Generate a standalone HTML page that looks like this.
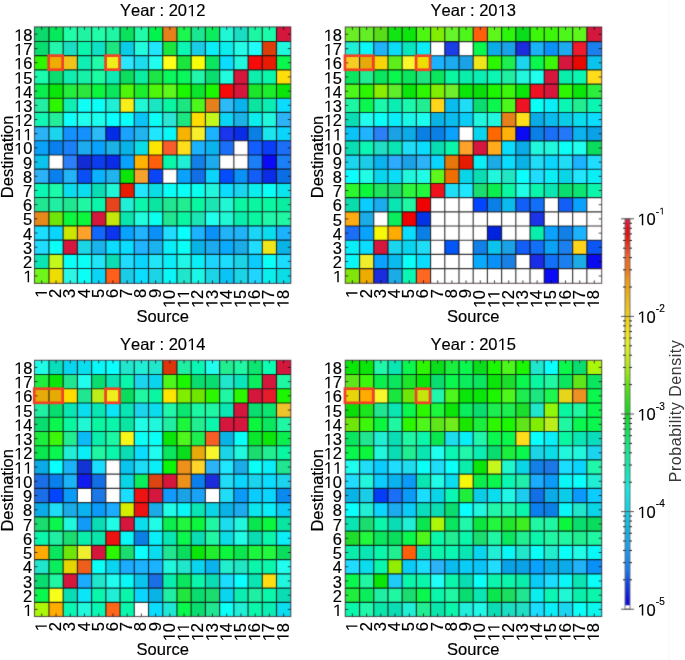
<!DOCTYPE html><html><head><meta charset="utf-8"><style>html,body{margin:0;padding:0;background:#fff;width:685px;height:660px;overflow:hidden}svg{display:block;-webkit-font-smoothing:antialiased;will-change:transform}</style></head><body><svg width="685" height="660" viewBox="0 0 685 660">
<defs><filter id="bl" x="0" y="0" width="685" height="660" filterUnits="userSpaceOnUse" color-interpolation-filters="sRGB"><feConvolveMatrix order="3" kernelMatrix="0.0115 0.0841 0.0115 0.0841 0.6177 0.0841 0.0115 0.0841 0.0115" edgeMode="duplicate" preserveAlpha="true"/></filter></defs>
<defs><linearGradient id="cb" x1="0" y1="0" x2="0" y2="1"><stop offset="0.0" stop-color="#d82048"/><stop offset="0.0159" stop-color="#e8142c"/><stop offset="0.0338" stop-color="#e80c10"/><stop offset="0.0543" stop-color="#e82010"/><stop offset="0.0799" stop-color="#e84828"/><stop offset="0.1004" stop-color="#f06828"/><stop offset="0.126" stop-color="#f07018"/><stop offset="0.1568" stop-color="#f09818"/><stop offset="0.1824" stop-color="#f0a810"/><stop offset="0.208" stop-color="#e8b820"/><stop offset="0.25" stop-color="#f0d010"/><stop offset="0.29" stop-color="#f0e018"/><stop offset="0.3233" stop-color="#e0f020"/><stop offset="0.3617" stop-color="#c0e818"/><stop offset="0.4001" stop-color="#90e810"/><stop offset="0.4257" stop-color="#60e010"/><stop offset="0.4641" stop-color="#30dc18"/><stop offset="0.5" stop-color="#10d820"/><stop offset="0.541" stop-color="#10e050"/><stop offset="0.5794" stop-color="#10e880"/><stop offset="0.6178" stop-color="#10e8a0"/><stop offset="0.6562" stop-color="#10e8c0"/><stop offset="0.6947" stop-color="#10e8e0"/><stop offset="0.75" stop-color="#10d0e8"/><stop offset="0.7971" stop-color="#10b0e0"/><stop offset="0.8227" stop-color="#18a8e8"/><stop offset="0.8612" stop-color="#1890f0"/><stop offset="0.8996" stop-color="#1878f0"/><stop offset="0.938" stop-color="#1040e0"/><stop offset="0.9764" stop-color="#1010e0"/><stop offset="0.9898" stop-color="#1010e0"/><stop offset="0.9908" stop-color="#ffffff"/><stop offset="1.0" stop-color="#ffffff"/></linearGradient></defs>
<g filter="url(#bl)">
<rect width="685" height="660" fill="#fff"/>
<rect x="34.50" y="26.90" width="14.48" height="14.58" fill="#0ed96d"/>
<rect x="48.95" y="26.90" width="14.25" height="14.58" fill="#05ea5a"/>
<rect x="63.17" y="26.90" width="14.25" height="14.58" fill="#20fea8"/>
<rect x="77.40" y="26.90" width="14.25" height="14.58" fill="#20f4a2"/>
<rect x="91.62" y="26.90" width="14.25" height="14.58" fill="#20fea8"/>
<rect x="105.84" y="26.90" width="14.25" height="14.58" fill="#20f7a2"/>
<rect x="120.06" y="26.90" width="14.25" height="14.58" fill="#0ae25e"/>
<rect x="134.28" y="26.90" width="14.25" height="14.58" fill="#20fca7"/>
<rect x="148.51" y="26.90" width="14.25" height="14.58" fill="#00f44e"/>
<rect x="162.73" y="26.90" width="14.25" height="14.58" fill="#e6801b"/>
<rect x="176.95" y="26.90" width="14.25" height="14.58" fill="#1bf74e"/>
<rect x="191.17" y="26.90" width="14.25" height="14.58" fill="#1be691"/>
<rect x="205.39" y="26.90" width="14.25" height="14.58" fill="#0aee5e"/>
<rect x="219.62" y="26.90" width="14.25" height="14.58" fill="#20f7d5"/>
<rect x="233.84" y="26.90" width="14.25" height="14.58" fill="#1bddc4"/>
<rect x="248.06" y="26.90" width="14.25" height="14.58" fill="#1bf7a2"/>
<rect x="262.28" y="26.90" width="14.25" height="14.58" fill="#1bfcab"/>
<rect x="276.50" y="26.90" width="14.33" height="14.58" fill="#d5173d"/>
<rect x="34.50" y="41.45" width="14.48" height="14.22" fill="#0add6f"/>
<rect x="48.95" y="41.45" width="14.25" height="14.22" fill="#23f7ab"/>
<rect x="63.17" y="41.45" width="14.25" height="14.22" fill="#1bddc4"/>
<rect x="77.40" y="41.45" width="14.25" height="14.22" fill="#0af7ab"/>
<rect x="91.62" y="41.45" width="14.25" height="14.22" fill="#0fe1c4"/>
<rect x="105.84" y="41.45" width="14.25" height="14.22" fill="#1be680"/>
<rect x="120.06" y="41.45" width="14.25" height="14.22" fill="#0acce6"/>
<rect x="134.28" y="41.45" width="14.25" height="14.22" fill="#20fcdd"/>
<rect x="148.51" y="41.45" width="14.25" height="14.22" fill="#20e6ff"/>
<rect x="162.73" y="41.45" width="14.25" height="14.22" fill="#1be63d"/>
<rect x="176.95" y="41.45" width="14.25" height="14.22" fill="#0af7b3"/>
<rect x="191.17" y="41.45" width="14.25" height="14.22" fill="#1bcce6"/>
<rect x="205.39" y="41.45" width="14.25" height="14.22" fill="#0aeef7"/>
<rect x="219.62" y="41.45" width="14.25" height="14.22" fill="#0aeeee"/>
<rect x="233.84" y="41.45" width="14.25" height="14.22" fill="#23fce6"/>
<rect x="248.06" y="41.45" width="14.25" height="14.22" fill="#20fcf7"/>
<rect x="262.28" y="41.45" width="14.25" height="14.22" fill="#dd3d0a"/>
<rect x="276.50" y="41.45" width="14.33" height="14.22" fill="#20f7dd"/>
<rect x="34.50" y="55.64" width="14.48" height="14.22" fill="#2cf700"/>
<rect x="48.95" y="55.64" width="14.25" height="14.22" fill="#eeab00"/>
<rect x="63.17" y="55.64" width="14.25" height="14.22" fill="#eec41b"/>
<rect x="77.40" y="55.64" width="14.25" height="14.22" fill="#0feeb3"/>
<rect x="91.62" y="55.64" width="14.25" height="14.22" fill="#20fca7"/>
<rect x="105.84" y="55.64" width="14.25" height="14.22" fill="#eeee1b"/>
<rect x="120.06" y="55.64" width="14.25" height="14.22" fill="#2ce6ff"/>
<rect x="134.28" y="55.64" width="14.25" height="14.22" fill="#1bddee"/>
<rect x="148.51" y="55.64" width="14.25" height="14.22" fill="#20ffee"/>
<rect x="162.73" y="55.64" width="14.25" height="14.22" fill="#ffff1b"/>
<rect x="176.95" y="55.64" width="14.25" height="14.22" fill="#1be63d"/>
<rect x="191.17" y="55.64" width="14.25" height="14.22" fill="#f7ff0a"/>
<rect x="205.39" y="55.64" width="14.25" height="14.22" fill="#0ae65e"/>
<rect x="219.62" y="55.64" width="14.25" height="14.22" fill="#0addff"/>
<rect x="233.84" y="55.64" width="14.25" height="14.22" fill="#20f7dd"/>
<rect x="248.06" y="55.64" width="14.25" height="14.22" fill="#f70a0a"/>
<rect x="262.28" y="55.64" width="14.25" height="14.22" fill="#e61b00"/>
<rect x="276.50" y="55.64" width="14.33" height="14.22" fill="#0af74e"/>
<rect x="34.50" y="69.83" width="14.48" height="14.22" fill="#1afcad"/>
<rect x="48.95" y="69.83" width="14.25" height="14.22" fill="#0cdd6f"/>
<rect x="63.17" y="69.83" width="14.25" height="14.22" fill="#0feeb0"/>
<rect x="77.40" y="69.83" width="14.25" height="14.22" fill="#15f1a7"/>
<rect x="91.62" y="69.83" width="14.25" height="14.22" fill="#1bfca2"/>
<rect x="105.84" y="69.83" width="14.25" height="14.22" fill="#0cebb3"/>
<rect x="120.06" y="69.83" width="14.25" height="14.22" fill="#0cdd5e"/>
<rect x="134.28" y="69.83" width="14.25" height="14.22" fill="#0aeea2"/>
<rect x="148.51" y="69.83" width="14.25" height="14.22" fill="#1be645"/>
<rect x="162.73" y="69.83" width="14.25" height="14.22" fill="#0af75e"/>
<rect x="176.95" y="69.83" width="14.25" height="14.22" fill="#0af75e"/>
<rect x="191.17" y="69.83" width="14.25" height="14.22" fill="#20f7ab"/>
<rect x="205.39" y="69.83" width="14.25" height="14.22" fill="#0add6f"/>
<rect x="219.62" y="69.83" width="14.25" height="14.22" fill="#20fcdd"/>
<rect x="233.84" y="69.83" width="14.25" height="14.22" fill="#d5173d"/>
<rect x="248.06" y="69.83" width="14.25" height="14.22" fill="#0feeab"/>
<rect x="262.28" y="69.83" width="14.25" height="14.22" fill="#0af7ab"/>
<rect x="276.50" y="69.83" width="14.33" height="14.22" fill="#ffdd0a"/>
<rect x="34.50" y="84.02" width="14.48" height="14.22" fill="#0aee4e"/>
<rect x="48.95" y="84.02" width="14.25" height="14.22" fill="#0ae60a"/>
<rect x="63.17" y="84.02" width="14.25" height="14.22" fill="#23ee3d"/>
<rect x="77.40" y="84.02" width="14.25" height="14.22" fill="#2ce63d"/>
<rect x="91.62" y="84.02" width="14.25" height="14.22" fill="#0af73d"/>
<rect x="105.84" y="84.02" width="14.25" height="14.22" fill="#0ae65e"/>
<rect x="120.06" y="84.02" width="14.25" height="14.22" fill="#4ef70a"/>
<rect x="134.28" y="84.02" width="14.25" height="14.22" fill="#1bee2c"/>
<rect x="148.51" y="84.02" width="14.25" height="14.22" fill="#4ef70a"/>
<rect x="162.73" y="84.02" width="14.25" height="14.22" fill="#5ef71b"/>
<rect x="176.95" y="84.02" width="14.25" height="14.22" fill="#1bf700"/>
<rect x="191.17" y="84.02" width="14.25" height="14.22" fill="#0ae62c"/>
<rect x="205.39" y="84.02" width="14.25" height="14.22" fill="#1bf700"/>
<rect x="219.62" y="84.02" width="14.25" height="14.22" fill="#f70a0a"/>
<rect x="233.84" y="84.02" width="14.25" height="14.22" fill="#d5173d"/>
<rect x="248.06" y="84.02" width="14.25" height="14.22" fill="#1be62c"/>
<rect x="262.28" y="84.02" width="14.25" height="14.22" fill="#1bee2c"/>
<rect x="276.50" y="84.02" width="14.33" height="14.22" fill="#0ae60a"/>
<rect x="34.50" y="98.21" width="14.48" height="14.22" fill="#23eea2"/>
<rect x="48.95" y="98.21" width="14.25" height="14.22" fill="#2cf700"/>
<rect x="63.17" y="98.21" width="14.25" height="14.22" fill="#0feeb3"/>
<rect x="77.40" y="98.21" width="14.25" height="14.22" fill="#0ffff7"/>
<rect x="91.62" y="98.21" width="14.25" height="14.22" fill="#0afff7"/>
<rect x="105.84" y="98.21" width="14.25" height="14.22" fill="#20eed5"/>
<rect x="120.06" y="98.21" width="14.25" height="14.22" fill="#f7ee1b"/>
<rect x="134.28" y="98.21" width="14.25" height="14.22" fill="#20f7d5"/>
<rect x="148.51" y="98.21" width="14.25" height="14.22" fill="#1be6c4"/>
<rect x="162.73" y="98.21" width="14.25" height="14.22" fill="#0af7a2"/>
<rect x="176.95" y="98.21" width="14.25" height="14.22" fill="#1be680"/>
<rect x="191.17" y="98.21" width="14.25" height="14.22" fill="#4ef71b"/>
<rect x="205.39" y="98.21" width="14.25" height="14.22" fill="#e6801b"/>
<rect x="219.62" y="98.21" width="14.25" height="14.22" fill="#2cbbf7"/>
<rect x="233.84" y="98.21" width="14.25" height="14.22" fill="#0ab3ee"/>
<rect x="248.06" y="98.21" width="14.25" height="14.22" fill="#0ae6a2"/>
<rect x="262.28" y="98.21" width="14.25" height="14.22" fill="#0aeeb3"/>
<rect x="276.50" y="98.21" width="14.33" height="14.22" fill="#0addff"/>
<rect x="34.50" y="112.40" width="14.48" height="14.22" fill="#12f7b3"/>
<rect x="48.95" y="112.40" width="14.25" height="14.22" fill="#23ee9a"/>
<rect x="63.17" y="112.40" width="14.25" height="14.22" fill="#0ffffc"/>
<rect x="77.40" y="112.40" width="14.25" height="14.22" fill="#20ffee"/>
<rect x="91.62" y="112.40" width="14.25" height="14.22" fill="#1bffee"/>
<rect x="105.84" y="112.40" width="14.25" height="14.22" fill="#0affff"/>
<rect x="120.06" y="112.40" width="14.25" height="14.22" fill="#0affff"/>
<rect x="134.28" y="112.40" width="14.25" height="14.22" fill="#0ac4f7"/>
<rect x="148.51" y="112.40" width="14.25" height="14.22" fill="#0afff7"/>
<rect x="162.73" y="112.40" width="14.25" height="14.22" fill="#2ce6d5"/>
<rect x="176.95" y="112.40" width="14.25" height="14.22" fill="#1be680"/>
<rect x="191.17" y="112.40" width="14.25" height="14.22" fill="#ffdd00"/>
<rect x="205.39" y="112.40" width="14.25" height="14.22" fill="#c4f71b"/>
<rect x="219.62" y="112.40" width="14.25" height="14.22" fill="#0ad5f7"/>
<rect x="233.84" y="112.40" width="14.25" height="14.22" fill="#1bb3e6"/>
<rect x="248.06" y="112.40" width="14.25" height="14.22" fill="#0aeeee"/>
<rect x="262.28" y="112.40" width="14.25" height="14.22" fill="#20f7dd"/>
<rect x="276.50" y="112.40" width="14.33" height="14.22" fill="#2cb3f7"/>
<rect x="34.50" y="126.59" width="14.48" height="14.22" fill="#2cb3f7"/>
<rect x="48.95" y="126.59" width="14.25" height="14.22" fill="#1bd5ee"/>
<rect x="63.17" y="126.59" width="14.25" height="14.22" fill="#1291ff"/>
<rect x="77.40" y="126.59" width="14.25" height="14.22" fill="#1291ff"/>
<rect x="91.62" y="126.59" width="14.25" height="14.22" fill="#2cbbf7"/>
<rect x="105.84" y="126.59" width="14.25" height="14.22" fill="#022ce6"/>
<rect x="120.06" y="126.59" width="14.25" height="14.22" fill="#1ba2ff"/>
<rect x="134.28" y="126.59" width="14.25" height="14.22" fill="#20b3ee"/>
<rect x="148.51" y="126.59" width="14.25" height="14.22" fill="#20e6ff"/>
<rect x="162.73" y="126.59" width="14.25" height="14.22" fill="#0af7f7"/>
<rect x="176.95" y="126.59" width="14.25" height="14.22" fill="#f7b300"/>
<rect x="191.17" y="126.59" width="14.25" height="14.22" fill="#f7ee2c"/>
<rect x="205.39" y="126.59" width="14.25" height="14.22" fill="#1bb3ff"/>
<rect x="219.62" y="126.59" width="14.25" height="14.22" fill="#1b34ee"/>
<rect x="233.84" y="126.59" width="14.25" height="14.22" fill="#0a2ce6"/>
<rect x="248.06" y="126.59" width="14.25" height="14.22" fill="#0a80e6"/>
<rect x="262.28" y="126.59" width="14.25" height="14.22" fill="#1be6ee"/>
<rect x="276.50" y="126.59" width="14.33" height="14.22" fill="#0ad5ff"/>
<rect x="34.50" y="140.78" width="14.48" height="14.22" fill="#0aa2f7"/>
<rect x="48.95" y="140.78" width="14.25" height="14.22" fill="#0a80ee"/>
<rect x="63.17" y="140.78" width="14.25" height="14.22" fill="#1b80f7"/>
<rect x="77.40" y="140.78" width="14.25" height="14.22" fill="#1babee"/>
<rect x="91.62" y="140.78" width="14.25" height="14.22" fill="#0aa2ff"/>
<rect x="105.84" y="140.78" width="14.25" height="14.22" fill="#1bb3e6"/>
<rect x="120.06" y="140.78" width="14.25" height="14.22" fill="#0ab3e6"/>
<rect x="134.28" y="140.78" width="14.25" height="14.22" fill="#0adde6"/>
<rect x="148.51" y="140.78" width="14.25" height="14.22" fill="#ffe600"/>
<rect x="162.73" y="140.78" width="14.25" height="14.22" fill="#f75e2c"/>
<rect x="176.95" y="140.78" width="14.25" height="14.22" fill="#ffdd1b"/>
<rect x="191.17" y="140.78" width="14.25" height="14.22" fill="#1bb3ff"/>
<rect x="205.39" y="140.78" width="14.25" height="14.22" fill="#0ab3ee"/>
<rect x="219.62" y="140.78" width="14.25" height="14.22" fill="#1b6ff7"/>
<rect x="233.84" y="140.78" width="14.25" height="14.22" fill="#ffffff"/>
<rect x="248.06" y="140.78" width="14.25" height="14.22" fill="#125eff"/>
<rect x="262.28" y="140.78" width="14.25" height="14.22" fill="#0a3df7"/>
<rect x="276.50" y="140.78" width="14.33" height="14.22" fill="#1b6ff7"/>
<rect x="34.50" y="154.97" width="14.48" height="14.22" fill="#0ac4ee"/>
<rect x="48.95" y="154.97" width="14.25" height="14.22" fill="#ffffff"/>
<rect x="63.17" y="154.97" width="14.25" height="14.22" fill="#2c80f7"/>
<rect x="77.40" y="154.97" width="14.25" height="14.22" fill="#122cd5"/>
<rect x="91.62" y="154.97" width="14.25" height="14.22" fill="#0a3dee"/>
<rect x="105.84" y="154.97" width="14.25" height="14.22" fill="#0a2ce6"/>
<rect x="120.06" y="154.97" width="14.25" height="14.22" fill="#0aa2ff"/>
<rect x="134.28" y="154.97" width="14.25" height="14.22" fill="#ffb300"/>
<rect x="148.51" y="154.97" width="14.25" height="14.22" fill="#ff5e0a"/>
<rect x="162.73" y="154.97" width="14.25" height="14.22" fill="#0af7ab"/>
<rect x="176.95" y="154.97" width="14.25" height="14.22" fill="#20eed5"/>
<rect x="191.17" y="154.97" width="14.25" height="14.22" fill="#1280e6"/>
<rect x="205.39" y="154.97" width="14.25" height="14.22" fill="#1babee"/>
<rect x="219.62" y="154.97" width="14.25" height="14.22" fill="#ffffff"/>
<rect x="233.84" y="154.97" width="14.25" height="14.22" fill="#ffffff"/>
<rect x="248.06" y="154.97" width="14.25" height="14.22" fill="#1b80f7"/>
<rect x="262.28" y="154.97" width="14.25" height="14.22" fill="#0a0af7"/>
<rect x="276.50" y="154.97" width="14.33" height="14.22" fill="#1b80f7"/>
<rect x="34.50" y="169.16" width="14.48" height="14.22" fill="#2cb3f7"/>
<rect x="48.95" y="169.16" width="14.25" height="14.22" fill="#0a80ee"/>
<rect x="63.17" y="169.16" width="14.25" height="14.22" fill="#23b3f7"/>
<rect x="77.40" y="169.16" width="14.25" height="14.22" fill="#0a4ef7"/>
<rect x="91.62" y="169.16" width="14.25" height="14.22" fill="#0ab3ff"/>
<rect x="105.84" y="169.16" width="14.25" height="14.22" fill="#20b3ee"/>
<rect x="120.06" y="169.16" width="14.25" height="14.22" fill="#0ae60a"/>
<rect x="134.28" y="169.16" width="14.25" height="14.22" fill="#f7a22c"/>
<rect x="148.51" y="169.16" width="14.25" height="14.22" fill="#0a45f7"/>
<rect x="162.73" y="169.16" width="14.25" height="14.22" fill="#ffffff"/>
<rect x="176.95" y="169.16" width="14.25" height="14.22" fill="#0aa2ff"/>
<rect x="191.17" y="169.16" width="14.25" height="14.22" fill="#126fe6"/>
<rect x="205.39" y="169.16" width="14.25" height="14.22" fill="#0ad5ff"/>
<rect x="219.62" y="169.16" width="14.25" height="14.22" fill="#024eff"/>
<rect x="233.84" y="169.16" width="14.25" height="14.22" fill="#0a91f7"/>
<rect x="248.06" y="169.16" width="14.25" height="14.22" fill="#125ef7"/>
<rect x="262.28" y="169.16" width="14.25" height="14.22" fill="#0a2ce6"/>
<rect x="276.50" y="169.16" width="14.33" height="14.22" fill="#0a6fe6"/>
<rect x="34.50" y="183.35" width="14.48" height="14.22" fill="#0af7b3"/>
<rect x="48.95" y="183.35" width="14.25" height="14.22" fill="#1bfcab"/>
<rect x="63.17" y="183.35" width="14.25" height="14.22" fill="#0addee"/>
<rect x="77.40" y="183.35" width="14.25" height="14.22" fill="#0addee"/>
<rect x="91.62" y="183.35" width="14.25" height="14.22" fill="#0addb3"/>
<rect x="105.84" y="183.35" width="14.25" height="14.22" fill="#20f7d5"/>
<rect x="120.06" y="183.35" width="14.25" height="14.22" fill="#e61b00"/>
<rect x="134.28" y="183.35" width="14.25" height="14.22" fill="#20e6ff"/>
<rect x="148.51" y="183.35" width="14.25" height="14.22" fill="#0adde6"/>
<rect x="162.73" y="183.35" width="14.25" height="14.22" fill="#0afff7"/>
<rect x="176.95" y="183.35" width="14.25" height="14.22" fill="#0afff7"/>
<rect x="191.17" y="183.35" width="14.25" height="14.22" fill="#0affee"/>
<rect x="205.39" y="183.35" width="14.25" height="14.22" fill="#20f7dd"/>
<rect x="219.62" y="183.35" width="14.25" height="14.22" fill="#0addff"/>
<rect x="233.84" y="183.35" width="14.25" height="14.22" fill="#1bd5ee"/>
<rect x="248.06" y="183.35" width="14.25" height="14.22" fill="#0aeeee"/>
<rect x="262.28" y="183.35" width="14.25" height="14.22" fill="#0afff7"/>
<rect x="276.50" y="183.35" width="14.33" height="14.22" fill="#0ae6ee"/>
<rect x="34.50" y="197.54" width="14.48" height="14.22" fill="#20e691"/>
<rect x="48.95" y="197.54" width="14.25" height="14.22" fill="#20eea2"/>
<rect x="63.17" y="197.54" width="14.25" height="14.22" fill="#20e691"/>
<rect x="77.40" y="197.54" width="14.25" height="14.22" fill="#20f7a2"/>
<rect x="91.62" y="197.54" width="14.25" height="14.22" fill="#0af7ab"/>
<rect x="105.84" y="197.54" width="14.25" height="14.22" fill="#e6451b"/>
<rect x="120.06" y="197.54" width="14.25" height="14.22" fill="#20eed5"/>
<rect x="134.28" y="197.54" width="14.25" height="14.22" fill="#0af7ab"/>
<rect x="148.51" y="197.54" width="14.25" height="14.22" fill="#0ae6a2"/>
<rect x="162.73" y="197.54" width="14.25" height="14.22" fill="#20e691"/>
<rect x="176.95" y="197.54" width="14.25" height="14.22" fill="#20ee91"/>
<rect x="191.17" y="197.54" width="14.25" height="14.22" fill="#0af7a2"/>
<rect x="205.39" y="197.54" width="14.25" height="14.22" fill="#1be6b3"/>
<rect x="219.62" y="197.54" width="14.25" height="14.22" fill="#20f7d5"/>
<rect x="233.84" y="197.54" width="14.25" height="14.22" fill="#0af7a2"/>
<rect x="248.06" y="197.54" width="14.25" height="14.22" fill="#0af7a2"/>
<rect x="262.28" y="197.54" width="14.25" height="14.22" fill="#0af7a2"/>
<rect x="276.50" y="197.54" width="14.33" height="14.22" fill="#0aeea2"/>
<rect x="34.50" y="211.73" width="14.48" height="14.22" fill="#e6891b"/>
<rect x="48.95" y="211.73" width="14.25" height="14.22" fill="#6fe60a"/>
<rect x="63.17" y="211.73" width="14.25" height="14.22" fill="#0af73d"/>
<rect x="77.40" y="211.73" width="14.25" height="14.22" fill="#0af73d"/>
<rect x="91.62" y="211.73" width="14.25" height="14.22" fill="#d5173d"/>
<rect x="105.84" y="211.73" width="14.25" height="14.22" fill="#c4e60a"/>
<rect x="120.06" y="211.73" width="14.25" height="14.22" fill="#0ae6ab"/>
<rect x="134.28" y="211.73" width="14.25" height="14.22" fill="#20fcdd"/>
<rect x="148.51" y="211.73" width="14.25" height="14.22" fill="#0affee"/>
<rect x="162.73" y="211.73" width="14.25" height="14.22" fill="#20e691"/>
<rect x="176.95" y="211.73" width="14.25" height="14.22" fill="#0af7a2"/>
<rect x="191.17" y="211.73" width="14.25" height="14.22" fill="#1be6b3"/>
<rect x="205.39" y="211.73" width="14.25" height="14.22" fill="#20ffee"/>
<rect x="219.62" y="211.73" width="14.25" height="14.22" fill="#20f7d5"/>
<rect x="233.84" y="211.73" width="14.25" height="14.22" fill="#0aeeab"/>
<rect x="248.06" y="211.73" width="14.25" height="14.22" fill="#0af7a2"/>
<rect x="262.28" y="211.73" width="14.25" height="14.22" fill="#20f7ab"/>
<rect x="276.50" y="211.73" width="14.33" height="14.22" fill="#20f7a2"/>
<rect x="34.50" y="225.92" width="14.48" height="14.22" fill="#1bddff"/>
<rect x="48.95" y="225.92" width="14.25" height="14.22" fill="#0ad5ff"/>
<rect x="63.17" y="225.92" width="14.25" height="14.22" fill="#cce600"/>
<rect x="77.40" y="225.92" width="14.25" height="14.22" fill="#ffa22c"/>
<rect x="91.62" y="225.92" width="14.25" height="14.22" fill="#1267ff"/>
<rect x="105.84" y="225.92" width="14.25" height="14.22" fill="#0a34ee"/>
<rect x="120.06" y="225.92" width="14.25" height="14.22" fill="#0aa2ff"/>
<rect x="134.28" y="225.92" width="14.25" height="14.22" fill="#20b3ff"/>
<rect x="148.51" y="225.92" width="14.25" height="14.22" fill="#0a91f7"/>
<rect x="162.73" y="225.92" width="14.25" height="14.22" fill="#20ddff"/>
<rect x="176.95" y="225.92" width="14.25" height="14.22" fill="#0affff"/>
<rect x="191.17" y="225.92" width="14.25" height="14.22" fill="#1bb3ff"/>
<rect x="205.39" y="225.92" width="14.25" height="14.22" fill="#0a91f7"/>
<rect x="219.62" y="225.92" width="14.25" height="14.22" fill="#20b3f7"/>
<rect x="233.84" y="225.92" width="14.25" height="14.22" fill="#20b3f7"/>
<rect x="248.06" y="225.92" width="14.25" height="14.22" fill="#1bd5f7"/>
<rect x="262.28" y="225.92" width="14.25" height="14.22" fill="#0addee"/>
<rect x="276.50" y="225.92" width="14.33" height="14.22" fill="#1bb3ff"/>
<rect x="34.50" y="240.11" width="14.48" height="14.22" fill="#20ddff"/>
<rect x="48.95" y="240.11" width="14.25" height="14.22" fill="#0afff7"/>
<rect x="63.17" y="240.11" width="14.25" height="14.22" fill="#d5173d"/>
<rect x="77.40" y="240.11" width="14.25" height="14.22" fill="#1bd5e6"/>
<rect x="91.62" y="240.11" width="14.25" height="14.22" fill="#1bb3ee"/>
<rect x="105.84" y="240.11" width="14.25" height="14.22" fill="#0addff"/>
<rect x="120.06" y="240.11" width="14.25" height="14.22" fill="#0addff"/>
<rect x="134.28" y="240.11" width="14.25" height="14.22" fill="#20b3ff"/>
<rect x="148.51" y="240.11" width="14.25" height="14.22" fill="#1bb3ee"/>
<rect x="162.73" y="240.11" width="14.25" height="14.22" fill="#0aeef7"/>
<rect x="176.95" y="240.11" width="14.25" height="14.22" fill="#0afff7"/>
<rect x="191.17" y="240.11" width="14.25" height="14.22" fill="#0ab3e6"/>
<rect x="205.39" y="240.11" width="14.25" height="14.22" fill="#1babee"/>
<rect x="219.62" y="240.11" width="14.25" height="14.22" fill="#0aabff"/>
<rect x="233.84" y="240.11" width="14.25" height="14.22" fill="#1babe6"/>
<rect x="248.06" y="240.11" width="14.25" height="14.22" fill="#20ddff"/>
<rect x="262.28" y="240.11" width="14.25" height="14.22" fill="#eee61b"/>
<rect x="276.50" y="240.11" width="14.33" height="14.22" fill="#0ab3e6"/>
<rect x="34.50" y="254.30" width="14.48" height="14.22" fill="#0ae6b3"/>
<rect x="48.95" y="254.30" width="14.25" height="14.22" fill="#c4f71b"/>
<rect x="63.17" y="254.30" width="14.25" height="14.22" fill="#0afff7"/>
<rect x="77.40" y="254.30" width="14.25" height="14.22" fill="#0afff7"/>
<rect x="91.62" y="254.30" width="14.25" height="14.22" fill="#20e6f7"/>
<rect x="105.84" y="254.30" width="14.25" height="14.22" fill="#0addb3"/>
<rect x="120.06" y="254.30" width="14.25" height="14.22" fill="#20ddff"/>
<rect x="134.28" y="254.30" width="14.25" height="14.22" fill="#0ad5ff"/>
<rect x="148.51" y="254.30" width="14.25" height="14.22" fill="#20e6f7"/>
<rect x="162.73" y="254.30" width="14.25" height="14.22" fill="#0aeef7"/>
<rect x="176.95" y="254.30" width="14.25" height="14.22" fill="#20f7e6"/>
<rect x="191.17" y="254.30" width="14.25" height="14.22" fill="#0aeef7"/>
<rect x="205.39" y="254.30" width="14.25" height="14.22" fill="#1bd5ff"/>
<rect x="219.62" y="254.30" width="14.25" height="14.22" fill="#1bddff"/>
<rect x="233.84" y="254.30" width="14.25" height="14.22" fill="#1bd5e6"/>
<rect x="248.06" y="254.30" width="14.25" height="14.22" fill="#0accff"/>
<rect x="262.28" y="254.30" width="14.25" height="14.22" fill="#0afff7"/>
<rect x="276.50" y="254.30" width="14.33" height="14.22" fill="#1bddff"/>
<rect x="34.50" y="268.49" width="14.48" height="14.94" fill="#6ff71b"/>
<rect x="48.95" y="268.49" width="14.25" height="14.94" fill="#eedd00"/>
<rect x="63.17" y="268.49" width="14.25" height="14.94" fill="#2cf7e6"/>
<rect x="77.40" y="268.49" width="14.25" height="14.94" fill="#0afff7"/>
<rect x="91.62" y="268.49" width="14.25" height="14.94" fill="#0ad5f7"/>
<rect x="105.84" y="268.49" width="14.25" height="14.94" fill="#ff5e1b"/>
<rect x="120.06" y="268.49" width="14.25" height="14.94" fill="#1bcce6"/>
<rect x="134.28" y="268.49" width="14.25" height="14.94" fill="#0addff"/>
<rect x="148.51" y="268.49" width="14.25" height="14.94" fill="#1bd5e6"/>
<rect x="162.73" y="268.49" width="14.25" height="14.94" fill="#0af7f7"/>
<rect x="176.95" y="268.49" width="14.25" height="14.94" fill="#20e6cc"/>
<rect x="191.17" y="268.49" width="14.25" height="14.94" fill="#1bf7e6"/>
<rect x="205.39" y="268.49" width="14.25" height="14.94" fill="#1bd5e6"/>
<rect x="219.62" y="268.49" width="14.25" height="14.94" fill="#0ac4f7"/>
<rect x="233.84" y="268.49" width="14.25" height="14.94" fill="#1bd5e6"/>
<rect x="248.06" y="268.49" width="14.25" height="14.94" fill="#20d5ff"/>
<rect x="262.28" y="268.49" width="14.25" height="14.94" fill="#0aeeee"/>
<rect x="276.50" y="268.49" width="14.33" height="14.94" fill="#0adde6"/>
<path d="M48.95 26.90V283.40M34.50 41.45H290.80M63.17 26.90V283.40M34.50 55.64H290.80M77.40 26.90V283.40M34.50 69.83H290.80M91.62 26.90V283.40M34.50 84.02H290.80M105.84 26.90V283.40M34.50 98.21H290.80M120.06 26.90V283.40M34.50 112.40H290.80M134.28 26.90V283.40M34.50 126.59H290.80M148.51 26.90V283.40M34.50 140.78H290.80M162.73 26.90V283.40M34.50 154.97H290.80M176.95 26.90V283.40M34.50 169.16H290.80M191.17 26.90V283.40M34.50 183.35H290.80M205.39 26.90V283.40M34.50 197.54H290.80M219.62 26.90V283.40M34.50 211.73H290.80M233.84 26.90V283.40M34.50 225.92H290.80M248.06 26.90V283.40M34.50 240.11H290.80M262.28 26.90V283.40M34.50 254.30H290.80M276.50 26.90V283.40M34.50 268.49H290.80" stroke="#000" stroke-opacity="0.78" stroke-width="1.15" fill="none"/>
<path d="M41.73 26.90v3M41.73 283.40v-3M34.50 34.17h3M290.80 34.17h-3M56.06 26.90v3M56.06 283.40v-3M34.50 48.55h3M290.80 48.55h-3M70.28 26.90v3M70.28 283.40v-3M34.50 62.73h3M290.80 62.73h-3M84.51 26.90v3M84.51 283.40v-3M34.50 76.92h3M290.80 76.92h-3M98.73 26.90v3M98.73 283.40v-3M34.50 91.12h3M290.80 91.12h-3M112.95 26.90v3M112.95 283.40v-3M34.50 105.31h3M290.80 105.31h-3M127.17 26.90v3M127.17 283.40v-3M34.50 119.50h3M290.80 119.50h-3M141.39 26.90v3M141.39 283.40v-3M34.50 133.69h3M290.80 133.69h-3M155.62 26.90v3M155.62 283.40v-3M34.50 147.88h3M290.80 147.88h-3M169.84 26.90v3M169.84 283.40v-3M34.50 162.06h3M290.80 162.06h-3M184.06 26.90v3M184.06 283.40v-3M34.50 176.25h3M290.80 176.25h-3M198.28 26.90v3M198.28 283.40v-3M34.50 190.44h3M290.80 190.44h-3M212.50 26.90v3M212.50 283.40v-3M34.50 204.63h3M290.80 204.63h-3M226.73 26.90v3M226.73 283.40v-3M34.50 218.82h3M290.80 218.82h-3M240.95 26.90v3M240.95 283.40v-3M34.50 233.01h3M290.80 233.01h-3M255.17 26.90v3M255.17 283.40v-3M34.50 247.20h3M290.80 247.20h-3M269.39 26.90v3M269.39 283.40v-3M34.50 261.39h3M290.80 261.39h-3M283.65 26.90v3M283.65 283.40v-3M34.50 275.94h3M290.80 275.94h-3" stroke="#000" stroke-opacity="0.7" stroke-width="1" fill="none"/>
<rect x="34.50" y="26.90" width="256.30" height="256.50" fill="none" stroke="#301828" stroke-opacity="0.72" stroke-width="1.1"/>
<rect x="48.65" y="55.59" width="14.00" height="14.09" fill="none" stroke="#f04028" stroke-width="2.65"/>
<rect x="105.54" y="55.59" width="14.00" height="14.09" fill="none" stroke="#f04028" stroke-width="2.65"/>
<rect x="345.25" y="27.00" width="14.33" height="14.58" fill="#69ee25"/>
<rect x="359.55" y="27.00" width="14.24" height="14.58" fill="#63ee25"/>
<rect x="373.75" y="27.00" width="14.24" height="14.58" fill="#5add19"/>
<rect x="387.96" y="27.00" width="14.24" height="14.58" fill="#12e612"/>
<rect x="402.16" y="27.00" width="14.24" height="14.58" fill="#0ce60c"/>
<rect x="416.37" y="27.00" width="14.24" height="14.58" fill="#4ef712"/>
<rect x="430.58" y="27.00" width="14.24" height="14.58" fill="#80ee00"/>
<rect x="444.78" y="27.00" width="14.24" height="14.58" fill="#67f42c"/>
<rect x="458.99" y="27.00" width="14.24" height="14.58" fill="#4ef71b"/>
<rect x="473.19" y="27.00" width="14.24" height="14.58" fill="#ff5e0a"/>
<rect x="487.40" y="27.00" width="14.24" height="14.58" fill="#5ef71b"/>
<rect x="501.61" y="27.00" width="14.24" height="14.58" fill="#2cf70a"/>
<rect x="515.81" y="27.00" width="14.24" height="14.58" fill="#0add1b"/>
<rect x="530.02" y="27.00" width="14.24" height="14.58" fill="#3df70a"/>
<rect x="544.22" y="27.00" width="14.24" height="14.58" fill="#3df70a"/>
<rect x="558.43" y="27.00" width="14.24" height="14.58" fill="#4ef71b"/>
<rect x="572.64" y="27.00" width="14.24" height="14.58" fill="#5ef71b"/>
<rect x="586.84" y="27.00" width="14.89" height="14.58" fill="#d5173d"/>
<rect x="345.25" y="41.55" width="14.33" height="14.22" fill="#20eed5"/>
<rect x="359.55" y="41.55" width="14.24" height="14.22" fill="#0af7f7"/>
<rect x="373.75" y="41.55" width="14.24" height="14.22" fill="#20b3f7"/>
<rect x="387.96" y="41.55" width="14.24" height="14.22" fill="#0addf7"/>
<rect x="402.16" y="41.55" width="14.24" height="14.22" fill="#0ae6bb"/>
<rect x="416.37" y="41.55" width="14.24" height="14.22" fill="#0aeef7"/>
<rect x="430.58" y="41.55" width="14.24" height="14.22" fill="#ffffff"/>
<rect x="444.78" y="41.55" width="14.24" height="14.22" fill="#1b3de6"/>
<rect x="458.99" y="41.55" width="14.24" height="14.22" fill="#ffffff"/>
<rect x="473.19" y="41.55" width="14.24" height="14.22" fill="#0af74e"/>
<rect x="487.40" y="41.55" width="14.24" height="14.22" fill="#0aabe6"/>
<rect x="501.61" y="41.55" width="14.24" height="14.22" fill="#1ba2e6"/>
<rect x="515.81" y="41.55" width="14.24" height="14.22" fill="#1b2cdd"/>
<rect x="530.02" y="41.55" width="14.24" height="14.22" fill="#1bb3f7"/>
<rect x="544.22" y="41.55" width="14.24" height="14.22" fill="#0a91f7"/>
<rect x="558.43" y="41.55" width="14.24" height="14.22" fill="#1babee"/>
<rect x="572.64" y="41.55" width="14.24" height="14.22" fill="#ee1b2c"/>
<rect x="586.84" y="41.55" width="14.89" height="14.22" fill="#1b80ee"/>
<rect x="345.25" y="55.74" width="14.33" height="14.22" fill="#f7cc23"/>
<rect x="359.55" y="55.74" width="14.24" height="14.22" fill="#e6ab0a"/>
<rect x="373.75" y="55.74" width="14.24" height="14.22" fill="#f7d50a"/>
<rect x="387.96" y="55.74" width="14.24" height="14.22" fill="#5eee1b"/>
<rect x="402.16" y="55.74" width="14.24" height="14.22" fill="#f7f72c"/>
<rect x="416.37" y="55.74" width="14.24" height="14.22" fill="#eedd00"/>
<rect x="430.58" y="55.74" width="14.24" height="14.22" fill="#1bb3ff"/>
<rect x="444.78" y="55.74" width="14.24" height="14.22" fill="#1babee"/>
<rect x="458.99" y="55.74" width="14.24" height="14.22" fill="#1ba2e6"/>
<rect x="473.19" y="55.74" width="14.24" height="14.22" fill="#eee61b"/>
<rect x="487.40" y="55.74" width="14.24" height="14.22" fill="#2cf700"/>
<rect x="501.61" y="55.74" width="14.24" height="14.22" fill="#1bee4e"/>
<rect x="515.81" y="55.74" width="14.24" height="14.22" fill="#1bd5ee"/>
<rect x="530.02" y="55.74" width="14.24" height="14.22" fill="#0af74e"/>
<rect x="544.22" y="55.74" width="14.24" height="14.22" fill="#3df70a"/>
<rect x="558.43" y="55.74" width="14.24" height="14.22" fill="#d5173d"/>
<rect x="572.64" y="55.74" width="14.24" height="14.22" fill="#e60a00"/>
<rect x="586.84" y="55.74" width="14.89" height="14.22" fill="#0ac4ee"/>
<rect x="345.25" y="69.93" width="14.33" height="14.22" fill="#0ae65e"/>
<rect x="359.55" y="69.93" width="14.24" height="14.22" fill="#20ee91"/>
<rect x="373.75" y="69.93" width="14.24" height="14.22" fill="#0ae65e"/>
<rect x="387.96" y="69.93" width="14.24" height="14.22" fill="#0af74e"/>
<rect x="402.16" y="69.93" width="14.24" height="14.22" fill="#0ae65e"/>
<rect x="416.37" y="69.93" width="14.24" height="14.22" fill="#1be680"/>
<rect x="430.58" y="69.93" width="14.24" height="14.22" fill="#0ae65e"/>
<rect x="444.78" y="69.93" width="14.24" height="14.22" fill="#0af7a2"/>
<rect x="458.99" y="69.93" width="14.24" height="14.22" fill="#0aeeab"/>
<rect x="473.19" y="69.93" width="14.24" height="14.22" fill="#0aeeb3"/>
<rect x="487.40" y="69.93" width="14.24" height="14.22" fill="#0af7b3"/>
<rect x="501.61" y="69.93" width="14.24" height="14.22" fill="#20eea2"/>
<rect x="515.81" y="69.93" width="14.24" height="14.22" fill="#20f7dd"/>
<rect x="530.02" y="69.93" width="14.24" height="14.22" fill="#20ffee"/>
<rect x="544.22" y="69.93" width="14.24" height="14.22" fill="#d5173d"/>
<rect x="558.43" y="69.93" width="14.24" height="14.22" fill="#0aeeab"/>
<rect x="572.64" y="69.93" width="14.24" height="14.22" fill="#0af7b3"/>
<rect x="586.84" y="69.93" width="14.89" height="14.22" fill="#ffdd1b"/>
<rect x="345.25" y="84.12" width="14.33" height="14.22" fill="#4ef71b"/>
<rect x="359.55" y="84.12" width="14.24" height="14.22" fill="#2cf700"/>
<rect x="373.75" y="84.12" width="14.24" height="14.22" fill="#89ee00"/>
<rect x="387.96" y="84.12" width="14.24" height="14.22" fill="#5eee2c"/>
<rect x="402.16" y="84.12" width="14.24" height="14.22" fill="#0ae60a"/>
<rect x="416.37" y="84.12" width="14.24" height="14.22" fill="#2cf700"/>
<rect x="430.58" y="84.12" width="14.24" height="14.22" fill="#80ee00"/>
<rect x="444.78" y="84.12" width="14.24" height="14.22" fill="#6fee2c"/>
<rect x="458.99" y="84.12" width="14.24" height="14.22" fill="#0ae60a"/>
<rect x="473.19" y="84.12" width="14.24" height="14.22" fill="#0add0a"/>
<rect x="487.40" y="84.12" width="14.24" height="14.22" fill="#1bf700"/>
<rect x="501.61" y="84.12" width="14.24" height="14.22" fill="#3df70a"/>
<rect x="515.81" y="84.12" width="14.24" height="14.22" fill="#0ae60a"/>
<rect x="530.02" y="84.12" width="14.24" height="14.22" fill="#ee1223"/>
<rect x="544.22" y="84.12" width="14.24" height="14.22" fill="#d5173d"/>
<rect x="558.43" y="84.12" width="14.24" height="14.22" fill="#2cf700"/>
<rect x="572.64" y="84.12" width="14.24" height="14.22" fill="#0ae60a"/>
<rect x="586.84" y="84.12" width="14.89" height="14.22" fill="#2cee3d"/>
<rect x="345.25" y="98.31" width="14.33" height="14.22" fill="#1bf7a2"/>
<rect x="359.55" y="98.31" width="14.24" height="14.22" fill="#0af74e"/>
<rect x="373.75" y="98.31" width="14.24" height="14.22" fill="#1bf7ab"/>
<rect x="387.96" y="98.31" width="14.24" height="14.22" fill="#0aeeb3"/>
<rect x="402.16" y="98.31" width="14.24" height="14.22" fill="#1bf7ab"/>
<rect x="416.37" y="98.31" width="14.24" height="14.22" fill="#20ee91"/>
<rect x="430.58" y="98.31" width="14.24" height="14.22" fill="#ffd51b"/>
<rect x="444.78" y="98.31" width="14.24" height="14.22" fill="#0abbee"/>
<rect x="458.99" y="98.31" width="14.24" height="14.22" fill="#20ddf7"/>
<rect x="473.19" y="98.31" width="14.24" height="14.22" fill="#0add6f"/>
<rect x="487.40" y="98.31" width="14.24" height="14.22" fill="#0af74e"/>
<rect x="501.61" y="98.31" width="14.24" height="14.22" fill="#4ef71b"/>
<rect x="515.81" y="98.31" width="14.24" height="14.22" fill="#ee1223"/>
<rect x="530.02" y="98.31" width="14.24" height="14.22" fill="#0afff7"/>
<rect x="544.22" y="98.31" width="14.24" height="14.22" fill="#0aeef7"/>
<rect x="558.43" y="98.31" width="14.24" height="14.22" fill="#0af7b3"/>
<rect x="572.64" y="98.31" width="14.24" height="14.22" fill="#20ee91"/>
<rect x="586.84" y="98.31" width="14.89" height="14.22" fill="#0af7b3"/>
<rect x="345.25" y="112.50" width="14.33" height="14.22" fill="#0addb3"/>
<rect x="359.55" y="112.50" width="14.24" height="14.22" fill="#20fcee"/>
<rect x="373.75" y="112.50" width="14.24" height="14.22" fill="#0afff7"/>
<rect x="387.96" y="112.50" width="14.24" height="14.22" fill="#0aeef7"/>
<rect x="402.16" y="112.50" width="14.24" height="14.22" fill="#1bf7e6"/>
<rect x="416.37" y="112.50" width="14.24" height="14.22" fill="#1bffee"/>
<rect x="430.58" y="112.50" width="14.24" height="14.22" fill="#0ab3e6"/>
<rect x="444.78" y="112.50" width="14.24" height="14.22" fill="#0abbee"/>
<rect x="458.99" y="112.50" width="14.24" height="14.22" fill="#0accf7"/>
<rect x="473.19" y="112.50" width="14.24" height="14.22" fill="#20f7dd"/>
<rect x="487.40" y="112.50" width="14.24" height="14.22" fill="#20f7dd"/>
<rect x="501.61" y="112.50" width="14.24" height="14.22" fill="#e6801b"/>
<rect x="515.81" y="112.50" width="14.24" height="14.22" fill="#ffdd1b"/>
<rect x="530.02" y="112.50" width="14.24" height="14.22" fill="#0aabe6"/>
<rect x="544.22" y="112.50" width="14.24" height="14.22" fill="#0abbee"/>
<rect x="558.43" y="112.50" width="14.24" height="14.22" fill="#0acce6"/>
<rect x="572.64" y="112.50" width="14.24" height="14.22" fill="#0addee"/>
<rect x="586.84" y="112.50" width="14.89" height="14.22" fill="#0addff"/>
<rect x="345.25" y="126.69" width="14.33" height="14.22" fill="#0ac4f7"/>
<rect x="359.55" y="126.69" width="14.24" height="14.22" fill="#20b3ff"/>
<rect x="373.75" y="126.69" width="14.24" height="14.22" fill="#2c80f7"/>
<rect x="387.96" y="126.69" width="14.24" height="14.22" fill="#1ba2e6"/>
<rect x="402.16" y="126.69" width="14.24" height="14.22" fill="#0aabe6"/>
<rect x="416.37" y="126.69" width="14.24" height="14.22" fill="#0a80e6"/>
<rect x="430.58" y="126.69" width="14.24" height="14.22" fill="#0a80e6"/>
<rect x="444.78" y="126.69" width="14.24" height="14.22" fill="#0aa2ff"/>
<rect x="458.99" y="126.69" width="14.24" height="14.22" fill="#ffffff"/>
<rect x="473.19" y="126.69" width="14.24" height="14.22" fill="#0ad5ee"/>
<rect x="487.40" y="126.69" width="14.24" height="14.22" fill="#ff6700"/>
<rect x="501.61" y="126.69" width="14.24" height="14.22" fill="#ffb30a"/>
<rect x="515.81" y="126.69" width="14.24" height="14.22" fill="#0a0af7"/>
<rect x="530.02" y="126.69" width="14.24" height="14.22" fill="#0a80e6"/>
<rect x="544.22" y="126.69" width="14.24" height="14.22" fill="#1b6ff7"/>
<rect x="558.43" y="126.69" width="14.24" height="14.22" fill="#2378f7"/>
<rect x="572.64" y="126.69" width="14.24" height="14.22" fill="#0ab3ee"/>
<rect x="586.84" y="126.69" width="14.89" height="14.22" fill="#0aa2e6"/>
<rect x="345.25" y="140.88" width="14.33" height="14.22" fill="#0addb3"/>
<rect x="359.55" y="140.88" width="14.24" height="14.22" fill="#0af7b3"/>
<rect x="373.75" y="140.88" width="14.24" height="14.22" fill="#20ddc4"/>
<rect x="387.96" y="140.88" width="14.24" height="14.22" fill="#0ae6b3"/>
<rect x="402.16" y="140.88" width="14.24" height="14.22" fill="#20ddf7"/>
<rect x="416.37" y="140.88" width="14.24" height="14.22" fill="#0addff"/>
<rect x="430.58" y="140.88" width="14.24" height="14.22" fill="#0addb3"/>
<rect x="444.78" y="140.88" width="14.24" height="14.22" fill="#0af7ab"/>
<rect x="458.99" y="140.88" width="14.24" height="14.22" fill="#ffa22c"/>
<rect x="473.19" y="140.88" width="14.24" height="14.22" fill="#d5173d"/>
<rect x="487.40" y="140.88" width="14.24" height="14.22" fill="#ffab1b"/>
<rect x="501.61" y="140.88" width="14.24" height="14.22" fill="#0addff"/>
<rect x="515.81" y="140.88" width="14.24" height="14.22" fill="#0aabe6"/>
<rect x="530.02" y="140.88" width="14.24" height="14.22" fill="#20f7dd"/>
<rect x="544.22" y="140.88" width="14.24" height="14.22" fill="#20f7dd"/>
<rect x="558.43" y="140.88" width="14.24" height="14.22" fill="#0afff7"/>
<rect x="572.64" y="140.88" width="14.24" height="14.22" fill="#20ffee"/>
<rect x="586.84" y="140.88" width="14.89" height="14.22" fill="#0add5e"/>
<rect x="345.25" y="155.07" width="14.33" height="14.22" fill="#1bd5ee"/>
<rect x="359.55" y="155.07" width="14.24" height="14.22" fill="#1bcce6"/>
<rect x="373.75" y="155.07" width="14.24" height="14.22" fill="#0ab3ee"/>
<rect x="387.96" y="155.07" width="14.24" height="14.22" fill="#2cabff"/>
<rect x="402.16" y="155.07" width="14.24" height="14.22" fill="#1ba2e6"/>
<rect x="416.37" y="155.07" width="14.24" height="14.22" fill="#2cb3f7"/>
<rect x="430.58" y="155.07" width="14.24" height="14.22" fill="#0ad5ff"/>
<rect x="444.78" y="155.07" width="14.24" height="14.22" fill="#e6780a"/>
<rect x="458.99" y="155.07" width="14.24" height="14.22" fill="#e61b00"/>
<rect x="473.19" y="155.07" width="14.24" height="14.22" fill="#0aeef7"/>
<rect x="487.40" y="155.07" width="14.24" height="14.22" fill="#1babe6"/>
<rect x="501.61" y="155.07" width="14.24" height="14.22" fill="#0addff"/>
<rect x="515.81" y="155.07" width="14.24" height="14.22" fill="#0ab3e6"/>
<rect x="530.02" y="155.07" width="14.24" height="14.22" fill="#20ddf7"/>
<rect x="544.22" y="155.07" width="14.24" height="14.22" fill="#0ad5ff"/>
<rect x="558.43" y="155.07" width="14.24" height="14.22" fill="#20ddf7"/>
<rect x="572.64" y="155.07" width="14.24" height="14.22" fill="#1bb3ff"/>
<rect x="586.84" y="155.07" width="14.89" height="14.22" fill="#20ddff"/>
<rect x="345.25" y="169.26" width="14.33" height="14.22" fill="#0affff"/>
<rect x="359.55" y="169.26" width="14.24" height="14.22" fill="#20fce6"/>
<rect x="373.75" y="169.26" width="14.24" height="14.22" fill="#0ad5ee"/>
<rect x="387.96" y="169.26" width="14.24" height="14.22" fill="#0addf7"/>
<rect x="402.16" y="169.26" width="14.24" height="14.22" fill="#20f7dd"/>
<rect x="416.37" y="169.26" width="14.24" height="14.22" fill="#20fce6"/>
<rect x="430.58" y="169.26" width="14.24" height="14.22" fill="#5ef71b"/>
<rect x="444.78" y="169.26" width="14.24" height="14.22" fill="#ee6f00"/>
<rect x="458.99" y="169.26" width="14.24" height="14.22" fill="#0ad5e6"/>
<rect x="473.19" y="169.26" width="14.24" height="14.22" fill="#0addb3"/>
<rect x="487.40" y="169.26" width="14.24" height="14.22" fill="#20f7dd"/>
<rect x="501.61" y="169.26" width="14.24" height="14.22" fill="#20e6c4"/>
<rect x="515.81" y="169.26" width="14.24" height="14.22" fill="#0affff"/>
<rect x="530.02" y="169.26" width="14.24" height="14.22" fill="#20ddff"/>
<rect x="544.22" y="169.26" width="14.24" height="14.22" fill="#0aeef7"/>
<rect x="558.43" y="169.26" width="14.24" height="14.22" fill="#0ad5e6"/>
<rect x="572.64" y="169.26" width="14.24" height="14.22" fill="#20e6ff"/>
<rect x="586.84" y="169.26" width="14.89" height="14.22" fill="#0aeef7"/>
<rect x="345.25" y="183.45" width="14.33" height="14.22" fill="#2cf72c"/>
<rect x="359.55" y="183.45" width="14.24" height="14.22" fill="#0af73d"/>
<rect x="373.75" y="183.45" width="14.24" height="14.22" fill="#1be65e"/>
<rect x="387.96" y="183.45" width="14.24" height="14.22" fill="#1bdd6f"/>
<rect x="402.16" y="183.45" width="14.24" height="14.22" fill="#2cf73d"/>
<rect x="416.37" y="183.45" width="14.24" height="14.22" fill="#20f73d"/>
<rect x="430.58" y="183.45" width="14.24" height="14.22" fill="#ee121b"/>
<rect x="444.78" y="183.45" width="14.24" height="14.22" fill="#20ddf7"/>
<rect x="458.99" y="183.45" width="14.24" height="14.22" fill="#20e6ff"/>
<rect x="473.19" y="183.45" width="14.24" height="14.22" fill="#1bdd6f"/>
<rect x="487.40" y="183.45" width="14.24" height="14.22" fill="#0aee4e"/>
<rect x="501.61" y="183.45" width="14.24" height="14.22" fill="#0af7a2"/>
<rect x="515.81" y="183.45" width="14.24" height="14.22" fill="#20fce6"/>
<rect x="530.02" y="183.45" width="14.24" height="14.22" fill="#0af7ab"/>
<rect x="544.22" y="183.45" width="14.24" height="14.22" fill="#0ae6b3"/>
<rect x="558.43" y="183.45" width="14.24" height="14.22" fill="#0add6f"/>
<rect x="572.64" y="183.45" width="14.24" height="14.22" fill="#0ae66f"/>
<rect x="586.84" y="183.45" width="14.89" height="14.22" fill="#0af7ab"/>
<rect x="345.25" y="197.64" width="14.33" height="14.22" fill="#0addab"/>
<rect x="359.55" y="197.64" width="14.24" height="14.22" fill="#0accff"/>
<rect x="373.75" y="197.64" width="14.24" height="14.22" fill="#1babee"/>
<rect x="387.96" y="197.64" width="14.24" height="14.22" fill="#0ae6b3"/>
<rect x="402.16" y="197.64" width="14.24" height="14.22" fill="#20f7a2"/>
<rect x="416.37" y="197.64" width="14.24" height="14.22" fill="#ee0202"/>
<rect x="430.58" y="197.64" width="14.24" height="14.22" fill="#ffffff"/>
<rect x="444.78" y="197.64" width="14.24" height="14.22" fill="#ffffff"/>
<rect x="458.99" y="197.64" width="14.24" height="14.22" fill="#ffffff"/>
<rect x="473.19" y="197.64" width="14.24" height="14.22" fill="#0245ff"/>
<rect x="487.40" y="197.64" width="14.24" height="14.22" fill="#0a80e6"/>
<rect x="501.61" y="197.64" width="14.24" height="14.22" fill="#0abbee"/>
<rect x="515.81" y="197.64" width="14.24" height="14.22" fill="#125ef7"/>
<rect x="530.02" y="197.64" width="14.24" height="14.22" fill="#126ff7"/>
<rect x="544.22" y="197.64" width="14.24" height="14.22" fill="#ffffff"/>
<rect x="558.43" y="197.64" width="14.24" height="14.22" fill="#125ef7"/>
<rect x="572.64" y="197.64" width="14.24" height="14.22" fill="#0aa2ff"/>
<rect x="586.84" y="197.64" width="14.89" height="14.22" fill="#ffffff"/>
<rect x="345.25" y="211.83" width="14.33" height="14.22" fill="#ffab12"/>
<rect x="359.55" y="211.83" width="14.24" height="14.22" fill="#1babe6"/>
<rect x="373.75" y="211.83" width="14.24" height="14.22" fill="#ffffff"/>
<rect x="387.96" y="211.83" width="14.24" height="14.22" fill="#0aee5e"/>
<rect x="402.16" y="211.83" width="14.24" height="14.22" fill="#ee0202"/>
<rect x="416.37" y="211.83" width="14.24" height="14.22" fill="#0234e6"/>
<rect x="430.58" y="211.83" width="14.24" height="14.22" fill="#ffffff"/>
<rect x="444.78" y="211.83" width="14.24" height="14.22" fill="#ffffff"/>
<rect x="458.99" y="211.83" width="14.24" height="14.22" fill="#ffffff"/>
<rect x="473.19" y="211.83" width="14.24" height="14.22" fill="#ffffff"/>
<rect x="487.40" y="211.83" width="14.24" height="14.22" fill="#ffffff"/>
<rect x="501.61" y="211.83" width="14.24" height="14.22" fill="#ffffff"/>
<rect x="515.81" y="211.83" width="14.24" height="14.22" fill="#ffffff"/>
<rect x="530.02" y="211.83" width="14.24" height="14.22" fill="#1b34e6"/>
<rect x="544.22" y="211.83" width="14.24" height="14.22" fill="#ffffff"/>
<rect x="558.43" y="211.83" width="14.24" height="14.22" fill="#ffffff"/>
<rect x="572.64" y="211.83" width="14.24" height="14.22" fill="#ffffff"/>
<rect x="586.84" y="211.83" width="14.89" height="14.22" fill="#ffffff"/>
<rect x="345.25" y="226.02" width="14.33" height="14.22" fill="#1b6ff7"/>
<rect x="359.55" y="226.02" width="14.24" height="14.22" fill="#0aa2ff"/>
<rect x="373.75" y="226.02" width="14.24" height="14.22" fill="#f7f70a"/>
<rect x="387.96" y="226.02" width="14.24" height="14.22" fill="#ffab02"/>
<rect x="402.16" y="226.02" width="14.24" height="14.22" fill="#0addff"/>
<rect x="416.37" y="226.02" width="14.24" height="14.22" fill="#0a80e6"/>
<rect x="430.58" y="226.02" width="14.24" height="14.22" fill="#ffffff"/>
<rect x="444.78" y="226.02" width="14.24" height="14.22" fill="#ffffff"/>
<rect x="458.99" y="226.02" width="14.24" height="14.22" fill="#ffffff"/>
<rect x="473.19" y="226.02" width="14.24" height="14.22" fill="#ffffff"/>
<rect x="487.40" y="226.02" width="14.24" height="14.22" fill="#0223dd"/>
<rect x="501.61" y="226.02" width="14.24" height="14.22" fill="#ffffff"/>
<rect x="515.81" y="226.02" width="14.24" height="14.22" fill="#ffffff"/>
<rect x="530.02" y="226.02" width="14.24" height="14.22" fill="#0aeeab"/>
<rect x="544.22" y="226.02" width="14.24" height="14.22" fill="#0aa2ff"/>
<rect x="558.43" y="226.02" width="14.24" height="14.22" fill="#1280e6"/>
<rect x="572.64" y="226.02" width="14.24" height="14.22" fill="#1bb3ff"/>
<rect x="586.84" y="226.02" width="14.89" height="14.22" fill="#ffffff"/>
<rect x="345.25" y="240.21" width="14.33" height="14.22" fill="#0aeef7"/>
<rect x="359.55" y="240.21" width="14.24" height="14.22" fill="#0addff"/>
<rect x="373.75" y="240.21" width="14.24" height="14.22" fill="#d5173d"/>
<rect x="387.96" y="240.21" width="14.24" height="14.22" fill="#1bd5ee"/>
<rect x="402.16" y="240.21" width="14.24" height="14.22" fill="#0ad5ee"/>
<rect x="416.37" y="240.21" width="14.24" height="14.22" fill="#20ddf7"/>
<rect x="430.58" y="240.21" width="14.24" height="14.22" fill="#ffffff"/>
<rect x="444.78" y="240.21" width="14.24" height="14.22" fill="#0256f7"/>
<rect x="458.99" y="240.21" width="14.24" height="14.22" fill="#ffffff"/>
<rect x="473.19" y="240.21" width="14.24" height="14.22" fill="#1280e6"/>
<rect x="487.40" y="240.21" width="14.24" height="14.22" fill="#0ac4ee"/>
<rect x="501.61" y="240.21" width="14.24" height="14.22" fill="#1ba2e6"/>
<rect x="515.81" y="240.21" width="14.24" height="14.22" fill="#125ef7"/>
<rect x="530.02" y="240.21" width="14.24" height="14.22" fill="#126ff7"/>
<rect x="544.22" y="240.21" width="14.24" height="14.22" fill="#0aa2f7"/>
<rect x="558.43" y="240.21" width="14.24" height="14.22" fill="#1b80ee"/>
<rect x="572.64" y="240.21" width="14.24" height="14.22" fill="#ffd51b"/>
<rect x="586.84" y="240.21" width="14.89" height="14.22" fill="#0a56f7"/>
<rect x="345.25" y="254.40" width="14.33" height="14.22" fill="#0af7f7"/>
<rect x="359.55" y="254.40" width="14.24" height="14.22" fill="#eeee2c"/>
<rect x="373.75" y="254.40" width="14.24" height="14.22" fill="#0aa2ff"/>
<rect x="387.96" y="254.40" width="14.24" height="14.22" fill="#0abbee"/>
<rect x="402.16" y="254.40" width="14.24" height="14.22" fill="#0afff7"/>
<rect x="416.37" y="254.40" width="14.24" height="14.22" fill="#0addff"/>
<rect x="430.58" y="254.40" width="14.24" height="14.22" fill="#ffffff"/>
<rect x="444.78" y="254.40" width="14.24" height="14.22" fill="#ffffff"/>
<rect x="458.99" y="254.40" width="14.24" height="14.22" fill="#ffffff"/>
<rect x="473.19" y="254.40" width="14.24" height="14.22" fill="#0aabff"/>
<rect x="487.40" y="254.40" width="14.24" height="14.22" fill="#0a91f7"/>
<rect x="501.61" y="254.40" width="14.24" height="14.22" fill="#1b80e6"/>
<rect x="515.81" y="254.40" width="14.24" height="14.22" fill="#ffffff"/>
<rect x="530.02" y="254.40" width="14.24" height="14.22" fill="#1b2ce6"/>
<rect x="544.22" y="254.40" width="14.24" height="14.22" fill="#126ff7"/>
<rect x="558.43" y="254.40" width="14.24" height="14.22" fill="#1b80ee"/>
<rect x="572.64" y="254.40" width="14.24" height="14.22" fill="#1babe6"/>
<rect x="586.84" y="254.40" width="14.89" height="14.22" fill="#0a0aee"/>
<rect x="345.25" y="268.59" width="14.33" height="14.74" fill="#80e60a"/>
<rect x="359.55" y="268.59" width="14.24" height="14.74" fill="#eeab00"/>
<rect x="373.75" y="268.59" width="14.24" height="14.74" fill="#1b2cdd"/>
<rect x="387.96" y="268.59" width="14.24" height="14.74" fill="#1babe6"/>
<rect x="402.16" y="268.59" width="14.24" height="14.74" fill="#0af7b3"/>
<rect x="416.37" y="268.59" width="14.24" height="14.74" fill="#ff6723"/>
<rect x="430.58" y="268.59" width="14.24" height="14.74" fill="#ffffff"/>
<rect x="444.78" y="268.59" width="14.24" height="14.74" fill="#ffffff"/>
<rect x="458.99" y="268.59" width="14.24" height="14.74" fill="#ffffff"/>
<rect x="473.19" y="268.59" width="14.24" height="14.74" fill="#ffffff"/>
<rect x="487.40" y="268.59" width="14.24" height="14.74" fill="#ffffff"/>
<rect x="501.61" y="268.59" width="14.24" height="14.74" fill="#ffffff"/>
<rect x="515.81" y="268.59" width="14.24" height="14.74" fill="#ffffff"/>
<rect x="530.02" y="268.59" width="14.24" height="14.74" fill="#ffffff"/>
<rect x="544.22" y="268.59" width="14.24" height="14.74" fill="#0a0af7"/>
<rect x="558.43" y="268.59" width="14.24" height="14.74" fill="#ffffff"/>
<rect x="572.64" y="268.59" width="14.24" height="14.74" fill="#ffffff"/>
<rect x="586.84" y="268.59" width="14.89" height="14.74" fill="#ffffff"/>
<path d="M359.55 27.00V283.30M345.25 41.55H601.70M373.75 27.00V283.30M345.25 55.74H601.70M387.96 27.00V283.30M345.25 69.93H601.70M402.16 27.00V283.30M345.25 84.12H601.70M416.37 27.00V283.30M345.25 98.31H601.70M430.58 27.00V283.30M345.25 112.50H601.70M444.78 27.00V283.30M345.25 126.69H601.70M458.99 27.00V283.30M345.25 140.88H601.70M473.19 27.00V283.30M345.25 155.07H601.70M487.40 27.00V283.30M345.25 169.26H601.70M501.61 27.00V283.30M345.25 183.45H601.70M515.81 27.00V283.30M345.25 197.64H601.70M530.02 27.00V283.30M345.25 211.83H601.70M544.22 27.00V283.30M345.25 226.02H601.70M558.43 27.00V283.30M345.25 240.21H601.70M572.64 27.00V283.30M345.25 254.40H601.70M586.84 27.00V283.30M345.25 268.59H601.70" stroke="#000" stroke-opacity="0.78" stroke-width="1.15" fill="none"/>
<path d="M352.40 27.00v3M352.40 283.30v-3M345.25 34.27h3M601.70 34.27h-3M366.65 27.00v3M366.65 283.30v-3M345.25 48.64h3M601.70 48.64h-3M380.85 27.00v3M380.85 283.30v-3M345.25 62.84h3M601.70 62.84h-3M395.06 27.00v3M395.06 283.30v-3M345.25 77.03h3M601.70 77.03h-3M409.27 27.00v3M409.27 283.30v-3M345.25 91.22h3M601.70 91.22h-3M423.47 27.00v3M423.47 283.30v-3M345.25 105.41h3M601.70 105.41h-3M437.68 27.00v3M437.68 283.30v-3M345.25 119.59h3M601.70 119.59h-3M451.88 27.00v3M451.88 283.30v-3M345.25 133.78h3M601.70 133.78h-3M466.09 27.00v3M466.09 283.30v-3M345.25 147.97h3M601.70 147.97h-3M480.30 27.00v3M480.30 283.30v-3M345.25 162.16h3M601.70 162.16h-3M494.50 27.00v3M494.50 283.30v-3M345.25 176.35h3M601.70 176.35h-3M508.71 27.00v3M508.71 283.30v-3M345.25 190.54h3M601.70 190.54h-3M522.91 27.00v3M522.91 283.30v-3M345.25 204.73h3M601.70 204.73h-3M537.12 27.00v3M537.12 283.30v-3M345.25 218.92h3M601.70 218.92h-3M551.33 27.00v3M551.33 283.30v-3M345.25 233.11h3M601.70 233.11h-3M565.53 27.00v3M565.53 283.30v-3M345.25 247.30h3M601.70 247.30h-3M579.74 27.00v3M579.74 283.30v-3M345.25 261.50h3M601.70 261.50h-3M594.27 27.00v3M594.27 283.30v-3M345.25 275.94h3M601.70 275.94h-3" stroke="#000" stroke-opacity="0.7" stroke-width="1" fill="none"/>
<rect x="345.25" y="27.00" width="256.45" height="256.30" fill="none" stroke="#301828" stroke-opacity="0.72" stroke-width="1.1"/>
<rect x="344.95" y="55.69" width="28.28" height="14.09" fill="none" stroke="#f04028" stroke-width="2.65"/>
<rect x="416.07" y="55.69" width="13.99" height="14.09" fill="none" stroke="#f04028" stroke-width="2.65"/>
<rect x="34.50" y="360.30" width="14.48" height="14.23" fill="#20fce6"/>
<rect x="48.95" y="360.30" width="14.25" height="14.23" fill="#0addbb"/>
<rect x="63.17" y="360.30" width="14.25" height="14.23" fill="#0ad5ee"/>
<rect x="77.40" y="360.30" width="14.25" height="14.23" fill="#0addee"/>
<rect x="91.62" y="360.30" width="14.25" height="14.23" fill="#0af7f7"/>
<rect x="105.84" y="360.30" width="14.25" height="14.23" fill="#0affff"/>
<rect x="120.06" y="360.30" width="14.25" height="14.23" fill="#20e6cc"/>
<rect x="134.28" y="360.30" width="14.25" height="14.23" fill="#20eed5"/>
<rect x="148.51" y="360.30" width="14.25" height="14.23" fill="#20e6cc"/>
<rect x="162.73" y="360.30" width="14.25" height="14.23" fill="#dd340a"/>
<rect x="176.95" y="360.30" width="14.25" height="14.23" fill="#20eea2"/>
<rect x="191.17" y="360.30" width="14.25" height="14.23" fill="#0af7b3"/>
<rect x="205.39" y="360.30" width="14.25" height="14.23" fill="#20fcee"/>
<rect x="219.62" y="360.30" width="14.25" height="14.23" fill="#20ee91"/>
<rect x="233.84" y="360.30" width="14.25" height="14.23" fill="#20f7a2"/>
<rect x="248.06" y="360.30" width="14.25" height="14.23" fill="#0ae66f"/>
<rect x="262.28" y="360.30" width="14.25" height="14.23" fill="#0affb3"/>
<rect x="276.50" y="360.30" width="14.33" height="14.23" fill="#d5173d"/>
<rect x="34.50" y="374.50" width="14.48" height="14.27" fill="#20ee3d"/>
<rect x="48.95" y="374.50" width="14.25" height="14.27" fill="#0ae60a"/>
<rect x="63.17" y="374.50" width="14.25" height="14.27" fill="#20e691"/>
<rect x="77.40" y="374.50" width="14.25" height="14.27" fill="#20fcee"/>
<rect x="91.62" y="374.50" width="14.25" height="14.27" fill="#0add6f"/>
<rect x="105.84" y="374.50" width="14.25" height="14.27" fill="#0ae6b3"/>
<rect x="120.06" y="374.50" width="14.25" height="14.27" fill="#0af7ab"/>
<rect x="134.28" y="374.50" width="14.25" height="14.27" fill="#1bd5ee"/>
<rect x="148.51" y="374.50" width="14.25" height="14.27" fill="#0ad5ee"/>
<rect x="162.73" y="374.50" width="14.25" height="14.27" fill="#4ef71b"/>
<rect x="176.95" y="374.50" width="14.25" height="14.27" fill="#1bf700"/>
<rect x="191.17" y="374.50" width="14.25" height="14.27" fill="#0add6f"/>
<rect x="205.39" y="374.50" width="14.25" height="14.27" fill="#0add6f"/>
<rect x="219.62" y="374.50" width="14.25" height="14.27" fill="#20e6cc"/>
<rect x="233.84" y="374.50" width="14.25" height="14.27" fill="#0ae6bb"/>
<rect x="248.06" y="374.50" width="14.25" height="14.27" fill="#0aee5e"/>
<rect x="262.28" y="374.50" width="14.25" height="14.27" fill="#d5173d"/>
<rect x="276.50" y="374.50" width="14.33" height="14.27" fill="#20f7a2"/>
<rect x="34.50" y="388.74" width="14.48" height="14.27" fill="#e6ab0a"/>
<rect x="48.95" y="388.74" width="14.25" height="14.27" fill="#e6ab00"/>
<rect x="63.17" y="388.74" width="14.25" height="14.27" fill="#ffdd00"/>
<rect x="77.40" y="388.74" width="14.25" height="14.27" fill="#20e691"/>
<rect x="91.62" y="388.74" width="14.25" height="14.27" fill="#bbee1b"/>
<rect x="105.84" y="388.74" width="14.25" height="14.27" fill="#eeee1b"/>
<rect x="120.06" y="388.74" width="14.25" height="14.27" fill="#0add5e"/>
<rect x="134.28" y="388.74" width="14.25" height="14.27" fill="#20f7a2"/>
<rect x="148.51" y="388.74" width="14.25" height="14.27" fill="#0af7a2"/>
<rect x="162.73" y="388.74" width="14.25" height="14.27" fill="#ffe600"/>
<rect x="176.95" y="388.74" width="14.25" height="14.27" fill="#80ee00"/>
<rect x="191.17" y="388.74" width="14.25" height="14.27" fill="#6fe600"/>
<rect x="205.39" y="388.74" width="14.25" height="14.27" fill="#2cf700"/>
<rect x="219.62" y="388.74" width="14.25" height="14.27" fill="#20f7a2"/>
<rect x="233.84" y="388.74" width="14.25" height="14.27" fill="#2cf700"/>
<rect x="248.06" y="388.74" width="14.25" height="14.27" fill="#d5173d"/>
<rect x="262.28" y="388.74" width="14.25" height="14.27" fill="#e61b2c"/>
<rect x="276.50" y="388.74" width="14.33" height="14.27" fill="#1bf700"/>
<rect x="34.50" y="402.98" width="14.48" height="14.27" fill="#20eea2"/>
<rect x="48.95" y="402.98" width="14.25" height="14.27" fill="#0add6f"/>
<rect x="63.17" y="402.98" width="14.25" height="14.27" fill="#0ae6b3"/>
<rect x="77.40" y="402.98" width="14.25" height="14.27" fill="#0addee"/>
<rect x="91.62" y="402.98" width="14.25" height="14.27" fill="#0ae6b3"/>
<rect x="105.84" y="402.98" width="14.25" height="14.27" fill="#0ae6f7"/>
<rect x="120.06" y="402.98" width="14.25" height="14.27" fill="#0ae6b3"/>
<rect x="134.28" y="402.98" width="14.25" height="14.27" fill="#1bd5ee"/>
<rect x="148.51" y="402.98" width="14.25" height="14.27" fill="#0addee"/>
<rect x="162.73" y="402.98" width="14.25" height="14.27" fill="#20f7ab"/>
<rect x="176.95" y="402.98" width="14.25" height="14.27" fill="#0ae66f"/>
<rect x="191.17" y="402.98" width="14.25" height="14.27" fill="#1bf7a2"/>
<rect x="205.39" y="402.98" width="14.25" height="14.27" fill="#20f7a2"/>
<rect x="219.62" y="402.98" width="14.25" height="14.27" fill="#0ae6b3"/>
<rect x="233.84" y="402.98" width="14.25" height="14.27" fill="#d5173d"/>
<rect x="248.06" y="402.98" width="14.25" height="14.27" fill="#0add6f"/>
<rect x="262.28" y="402.98" width="14.25" height="14.27" fill="#0ae66f"/>
<rect x="276.50" y="402.98" width="14.33" height="14.27" fill="#eec42c"/>
<rect x="34.50" y="417.22" width="14.48" height="14.27" fill="#0add6f"/>
<rect x="48.95" y="417.22" width="14.25" height="14.27" fill="#0af74e"/>
<rect x="63.17" y="417.22" width="14.25" height="14.27" fill="#0af7a2"/>
<rect x="77.40" y="417.22" width="14.25" height="14.27" fill="#20f7d5"/>
<rect x="91.62" y="417.22" width="14.25" height="14.27" fill="#0af7a2"/>
<rect x="105.84" y="417.22" width="14.25" height="14.27" fill="#0af7ab"/>
<rect x="120.06" y="417.22" width="14.25" height="14.27" fill="#0ae6a2"/>
<rect x="134.28" y="417.22" width="14.25" height="14.27" fill="#20fce6"/>
<rect x="148.51" y="417.22" width="14.25" height="14.27" fill="#20f7dd"/>
<rect x="162.73" y="417.22" width="14.25" height="14.27" fill="#20eea2"/>
<rect x="176.95" y="417.22" width="14.25" height="14.27" fill="#1bf73d"/>
<rect x="191.17" y="417.22" width="14.25" height="14.27" fill="#20ee91"/>
<rect x="205.39" y="417.22" width="14.25" height="14.27" fill="#0af7ab"/>
<rect x="219.62" y="417.22" width="14.25" height="14.27" fill="#d5173d"/>
<rect x="233.84" y="417.22" width="14.25" height="14.27" fill="#d5173d"/>
<rect x="248.06" y="417.22" width="14.25" height="14.27" fill="#0af73d"/>
<rect x="262.28" y="417.22" width="14.25" height="14.27" fill="#0ae65e"/>
<rect x="276.50" y="417.22" width="14.33" height="14.27" fill="#20f7a2"/>
<rect x="34.50" y="431.46" width="14.48" height="14.27" fill="#1bee3d"/>
<rect x="48.95" y="431.46" width="14.25" height="14.27" fill="#3df70a"/>
<rect x="63.17" y="431.46" width="14.25" height="14.27" fill="#20ee91"/>
<rect x="77.40" y="431.46" width="14.25" height="14.27" fill="#0abbf7"/>
<rect x="91.62" y="431.46" width="14.25" height="14.27" fill="#0aeeab"/>
<rect x="105.84" y="431.46" width="14.25" height="14.27" fill="#1bf7a2"/>
<rect x="120.06" y="431.46" width="14.25" height="14.27" fill="#f7f71b"/>
<rect x="134.28" y="431.46" width="14.25" height="14.27" fill="#0afff7"/>
<rect x="148.51" y="431.46" width="14.25" height="14.27" fill="#0afff7"/>
<rect x="162.73" y="431.46" width="14.25" height="14.27" fill="#0ae60a"/>
<rect x="176.95" y="431.46" width="14.25" height="14.27" fill="#4ef71b"/>
<rect x="191.17" y="431.46" width="14.25" height="14.27" fill="#1bee4e"/>
<rect x="205.39" y="431.46" width="14.25" height="14.27" fill="#f75e23"/>
<rect x="219.62" y="431.46" width="14.25" height="14.27" fill="#0ab3e6"/>
<rect x="233.84" y="431.46" width="14.25" height="14.27" fill="#0afff7"/>
<rect x="248.06" y="431.46" width="14.25" height="14.27" fill="#0ae62c"/>
<rect x="262.28" y="431.46" width="14.25" height="14.27" fill="#0ae60a"/>
<rect x="276.50" y="431.46" width="14.33" height="14.27" fill="#0aee4e"/>
<rect x="34.50" y="445.70" width="14.48" height="14.27" fill="#0ae64e"/>
<rect x="48.95" y="445.70" width="14.25" height="14.27" fill="#0af74e"/>
<rect x="63.17" y="445.70" width="14.25" height="14.27" fill="#20eed5"/>
<rect x="77.40" y="445.70" width="14.25" height="14.27" fill="#0aeef7"/>
<rect x="91.62" y="445.70" width="14.25" height="14.27" fill="#20f7a2"/>
<rect x="105.84" y="445.70" width="14.25" height="14.27" fill="#0af7ab"/>
<rect x="120.06" y="445.70" width="14.25" height="14.27" fill="#0addb3"/>
<rect x="134.28" y="445.70" width="14.25" height="14.27" fill="#0addff"/>
<rect x="148.51" y="445.70" width="14.25" height="14.27" fill="#20fcee"/>
<rect x="162.73" y="445.70" width="14.25" height="14.27" fill="#0ae65e"/>
<rect x="176.95" y="445.70" width="14.25" height="14.27" fill="#0add1b"/>
<rect x="191.17" y="445.70" width="14.25" height="14.27" fill="#e6ab0a"/>
<rect x="205.39" y="445.70" width="14.25" height="14.27" fill="#f7f72c"/>
<rect x="219.62" y="445.70" width="14.25" height="14.27" fill="#1bd5e6"/>
<rect x="233.84" y="445.70" width="14.25" height="14.27" fill="#20f7dd"/>
<rect x="248.06" y="445.70" width="14.25" height="14.27" fill="#1bdd6f"/>
<rect x="262.28" y="445.70" width="14.25" height="14.27" fill="#20ee91"/>
<rect x="276.50" y="445.70" width="14.33" height="14.27" fill="#0af7a2"/>
<rect x="34.50" y="459.94" width="14.48" height="14.27" fill="#0aabe6"/>
<rect x="48.95" y="459.94" width="14.25" height="14.27" fill="#0affff"/>
<rect x="63.17" y="459.94" width="14.25" height="14.27" fill="#1bb3f7"/>
<rect x="77.40" y="459.94" width="14.25" height="14.27" fill="#1234d5"/>
<rect x="91.62" y="459.94" width="14.25" height="14.27" fill="#1bddff"/>
<rect x="105.84" y="459.94" width="14.25" height="14.27" fill="#ffffff"/>
<rect x="120.06" y="459.94" width="14.25" height="14.27" fill="#0ac4ee"/>
<rect x="134.28" y="459.94" width="14.25" height="14.27" fill="#1bddf7"/>
<rect x="148.51" y="459.94" width="14.25" height="14.27" fill="#0aeef7"/>
<rect x="162.73" y="459.94" width="14.25" height="14.27" fill="#0af70a"/>
<rect x="176.95" y="459.94" width="14.25" height="14.27" fill="#ee911b"/>
<rect x="191.17" y="459.94" width="14.25" height="14.27" fill="#ffd52c"/>
<rect x="205.39" y="459.94" width="14.25" height="14.27" fill="#2cb3f7"/>
<rect x="219.62" y="459.94" width="14.25" height="14.27" fill="#20e6ff"/>
<rect x="233.84" y="459.94" width="14.25" height="14.27" fill="#1babe6"/>
<rect x="248.06" y="459.94" width="14.25" height="14.27" fill="#0afff7"/>
<rect x="262.28" y="459.94" width="14.25" height="14.27" fill="#0aeef7"/>
<rect x="276.50" y="459.94" width="14.33" height="14.27" fill="#20e691"/>
<rect x="34.50" y="474.18" width="14.48" height="14.27" fill="#1b6fe6"/>
<rect x="48.95" y="474.18" width="14.25" height="14.27" fill="#0a80ee"/>
<rect x="63.17" y="474.18" width="14.25" height="14.27" fill="#1bb3f7"/>
<rect x="77.40" y="474.18" width="14.25" height="14.27" fill="#121bee"/>
<rect x="91.62" y="474.18" width="14.25" height="14.27" fill="#126fe6"/>
<rect x="105.84" y="474.18" width="14.25" height="14.27" fill="#ffffff"/>
<rect x="120.06" y="474.18" width="14.25" height="14.27" fill="#0ad5e6"/>
<rect x="134.28" y="474.18" width="14.25" height="14.27" fill="#0aee5e"/>
<rect x="148.51" y="474.18" width="14.25" height="14.27" fill="#dd4512"/>
<rect x="162.73" y="474.18" width="14.25" height="14.27" fill="#d5173d"/>
<rect x="176.95" y="474.18" width="14.25" height="14.27" fill="#ee911b"/>
<rect x="191.17" y="474.18" width="14.25" height="14.27" fill="#0a80ee"/>
<rect x="205.39" y="474.18" width="14.25" height="14.27" fill="#1b2cdd"/>
<rect x="219.62" y="474.18" width="14.25" height="14.27" fill="#20ddf7"/>
<rect x="233.84" y="474.18" width="14.25" height="14.27" fill="#0ad5ff"/>
<rect x="248.06" y="474.18" width="14.25" height="14.27" fill="#1bd5ee"/>
<rect x="262.28" y="474.18" width="14.25" height="14.27" fill="#0addff"/>
<rect x="276.50" y="474.18" width="14.33" height="14.27" fill="#1bd5ee"/>
<rect x="34.50" y="488.42" width="14.48" height="14.27" fill="#1b6fe6"/>
<rect x="48.95" y="488.42" width="14.25" height="14.27" fill="#0245ff"/>
<rect x="63.17" y="488.42" width="14.25" height="14.27" fill="#0a9af7"/>
<rect x="77.40" y="488.42" width="14.25" height="14.27" fill="#ffffff"/>
<rect x="91.62" y="488.42" width="14.25" height="14.27" fill="#1b78e6"/>
<rect x="105.84" y="488.42" width="14.25" height="14.27" fill="#ffffff"/>
<rect x="120.06" y="488.42" width="14.25" height="14.27" fill="#1bddff"/>
<rect x="134.28" y="488.42" width="14.25" height="14.27" fill="#ee1212"/>
<rect x="148.51" y="488.42" width="14.25" height="14.27" fill="#d5173d"/>
<rect x="162.73" y="488.42" width="14.25" height="14.27" fill="#129aff"/>
<rect x="176.95" y="488.42" width="14.25" height="14.27" fill="#1ba2e6"/>
<rect x="191.17" y="488.42" width="14.25" height="14.27" fill="#1ba2f7"/>
<rect x="205.39" y="488.42" width="14.25" height="14.27" fill="#ffffff"/>
<rect x="219.62" y="488.42" width="14.25" height="14.27" fill="#20ddf7"/>
<rect x="233.84" y="488.42" width="14.25" height="14.27" fill="#0a9af7"/>
<rect x="248.06" y="488.42" width="14.25" height="14.27" fill="#0accff"/>
<rect x="262.28" y="488.42" width="14.25" height="14.27" fill="#0ad5ff"/>
<rect x="276.50" y="488.42" width="14.33" height="14.27" fill="#0a89ee"/>
<rect x="34.50" y="502.66" width="14.48" height="14.27" fill="#0aabe6"/>
<rect x="48.95" y="502.66" width="14.25" height="14.27" fill="#20ddf7"/>
<rect x="63.17" y="502.66" width="14.25" height="14.27" fill="#1babe6"/>
<rect x="77.40" y="502.66" width="14.25" height="14.27" fill="#0ab3ee"/>
<rect x="91.62" y="502.66" width="14.25" height="14.27" fill="#0a9af7"/>
<rect x="105.84" y="502.66" width="14.25" height="14.27" fill="#1babff"/>
<rect x="120.06" y="502.66" width="14.25" height="14.27" fill="#d5ee00"/>
<rect x="134.28" y="502.66" width="14.25" height="14.27" fill="#ee1212"/>
<rect x="148.51" y="502.66" width="14.25" height="14.27" fill="#1babe6"/>
<rect x="162.73" y="502.66" width="14.25" height="14.27" fill="#20fce6"/>
<rect x="176.95" y="502.66" width="14.25" height="14.27" fill="#0af7f7"/>
<rect x="191.17" y="502.66" width="14.25" height="14.27" fill="#0ae6b3"/>
<rect x="205.39" y="502.66" width="14.25" height="14.27" fill="#0ad5e6"/>
<rect x="219.62" y="502.66" width="14.25" height="14.27" fill="#0ab3e6"/>
<rect x="233.84" y="502.66" width="14.25" height="14.27" fill="#1babee"/>
<rect x="248.06" y="502.66" width="14.25" height="14.27" fill="#0ae6ee"/>
<rect x="262.28" y="502.66" width="14.25" height="14.27" fill="#0aeef7"/>
<rect x="276.50" y="502.66" width="14.33" height="14.27" fill="#0accf7"/>
<rect x="34.50" y="516.90" width="14.48" height="14.27" fill="#1bdd6f"/>
<rect x="48.95" y="516.90" width="14.25" height="14.27" fill="#0af74e"/>
<rect x="63.17" y="516.90" width="14.25" height="14.27" fill="#20f7dd"/>
<rect x="77.40" y="516.90" width="14.25" height="14.27" fill="#129af7"/>
<rect x="91.62" y="516.90" width="14.25" height="14.27" fill="#0addb3"/>
<rect x="105.84" y="516.90" width="14.25" height="14.27" fill="#20fce6"/>
<rect x="120.06" y="516.90" width="14.25" height="14.27" fill="#d5173d"/>
<rect x="134.28" y="516.90" width="14.25" height="14.27" fill="#0addee"/>
<rect x="148.51" y="516.90" width="14.25" height="14.27" fill="#20fce6"/>
<rect x="162.73" y="516.90" width="14.25" height="14.27" fill="#0aee4e"/>
<rect x="176.95" y="516.90" width="14.25" height="14.27" fill="#20f73d"/>
<rect x="191.17" y="516.90" width="14.25" height="14.27" fill="#0af73d"/>
<rect x="205.39" y="516.90" width="14.25" height="14.27" fill="#20f7a2"/>
<rect x="219.62" y="516.90" width="14.25" height="14.27" fill="#1bddee"/>
<rect x="233.84" y="516.90" width="14.25" height="14.27" fill="#20f7dd"/>
<rect x="248.06" y="516.90" width="14.25" height="14.27" fill="#0ae64e"/>
<rect x="262.28" y="516.90" width="14.25" height="14.27" fill="#0af73d"/>
<rect x="276.50" y="516.90" width="14.33" height="14.27" fill="#0ae6a2"/>
<rect x="34.50" y="531.14" width="14.48" height="14.27" fill="#0af7ab"/>
<rect x="48.95" y="531.14" width="14.25" height="14.27" fill="#20eea2"/>
<rect x="63.17" y="531.14" width="14.25" height="14.27" fill="#1bdd6f"/>
<rect x="77.40" y="531.14" width="14.25" height="14.27" fill="#0aeeab"/>
<rect x="91.62" y="531.14" width="14.25" height="14.27" fill="#0ae6ab"/>
<rect x="105.84" y="531.14" width="14.25" height="14.27" fill="#ee1212"/>
<rect x="120.06" y="531.14" width="14.25" height="14.27" fill="#0af7f7"/>
<rect x="134.28" y="531.14" width="14.25" height="14.27" fill="#0a80e6"/>
<rect x="148.51" y="531.14" width="14.25" height="14.27" fill="#0aeef7"/>
<rect x="162.73" y="531.14" width="14.25" height="14.27" fill="#0ae6b3"/>
<rect x="176.95" y="531.14" width="14.25" height="14.27" fill="#0af74e"/>
<rect x="191.17" y="531.14" width="14.25" height="14.27" fill="#0addb3"/>
<rect x="205.39" y="531.14" width="14.25" height="14.27" fill="#20f7a2"/>
<rect x="219.62" y="531.14" width="14.25" height="14.27" fill="#0adde6"/>
<rect x="233.84" y="531.14" width="14.25" height="14.27" fill="#20fce6"/>
<rect x="248.06" y="531.14" width="14.25" height="14.27" fill="#0addb3"/>
<rect x="262.28" y="531.14" width="14.25" height="14.27" fill="#0af7ab"/>
<rect x="276.50" y="531.14" width="14.33" height="14.27" fill="#0aeef7"/>
<rect x="34.50" y="545.38" width="14.48" height="14.27" fill="#ffab02"/>
<rect x="48.95" y="545.38" width="14.25" height="14.27" fill="#0ae65e"/>
<rect x="63.17" y="545.38" width="14.25" height="14.27" fill="#6fe60a"/>
<rect x="77.40" y="545.38" width="14.25" height="14.27" fill="#eeee2c"/>
<rect x="91.62" y="545.38" width="14.25" height="14.27" fill="#d5173d"/>
<rect x="105.84" y="545.38" width="14.25" height="14.27" fill="#2cf700"/>
<rect x="120.06" y="545.38" width="14.25" height="14.27" fill="#1bdd6f"/>
<rect x="134.28" y="545.38" width="14.25" height="14.27" fill="#0affff"/>
<rect x="148.51" y="545.38" width="14.25" height="14.27" fill="#0addee"/>
<rect x="162.73" y="545.38" width="14.25" height="14.27" fill="#20e691"/>
<rect x="176.95" y="545.38" width="14.25" height="14.27" fill="#0add5e"/>
<rect x="191.17" y="545.38" width="14.25" height="14.27" fill="#0ae60a"/>
<rect x="205.39" y="545.38" width="14.25" height="14.27" fill="#20ee2c"/>
<rect x="219.62" y="545.38" width="14.25" height="14.27" fill="#0af73d"/>
<rect x="233.84" y="545.38" width="14.25" height="14.27" fill="#0ae64e"/>
<rect x="248.06" y="545.38" width="14.25" height="14.27" fill="#1bf73d"/>
<rect x="262.28" y="545.38" width="14.25" height="14.27" fill="#20f73d"/>
<rect x="276.50" y="545.38" width="14.33" height="14.27" fill="#0add5e"/>
<rect x="34.50" y="559.62" width="14.48" height="14.27" fill="#20e6cc"/>
<rect x="48.95" y="559.62" width="14.25" height="14.27" fill="#0aee5e"/>
<rect x="63.17" y="559.62" width="14.25" height="14.27" fill="#e6d500"/>
<rect x="77.40" y="559.62" width="14.25" height="14.27" fill="#ee5e1b"/>
<rect x="91.62" y="559.62" width="14.25" height="14.27" fill="#0afff7"/>
<rect x="105.84" y="559.62" width="14.25" height="14.27" fill="#0ad5ee"/>
<rect x="120.06" y="559.62" width="14.25" height="14.27" fill="#1babff"/>
<rect x="134.28" y="559.62" width="14.25" height="14.27" fill="#1bb3ff"/>
<rect x="148.51" y="559.62" width="14.25" height="14.27" fill="#1bb3ff"/>
<rect x="162.73" y="559.62" width="14.25" height="14.27" fill="#20f7dd"/>
<rect x="176.95" y="559.62" width="14.25" height="14.27" fill="#20e6cc"/>
<rect x="191.17" y="559.62" width="14.25" height="14.27" fill="#0ad5ee"/>
<rect x="205.39" y="559.62" width="14.25" height="14.27" fill="#0ab3ee"/>
<rect x="219.62" y="559.62" width="14.25" height="14.27" fill="#20eecc"/>
<rect x="233.84" y="559.62" width="14.25" height="14.27" fill="#20e6c4"/>
<rect x="248.06" y="559.62" width="14.25" height="14.27" fill="#0af7ab"/>
<rect x="262.28" y="559.62" width="14.25" height="14.27" fill="#0af7ab"/>
<rect x="276.50" y="559.62" width="14.33" height="14.27" fill="#20ffee"/>
<rect x="34.50" y="573.86" width="14.48" height="14.27" fill="#0add6f"/>
<rect x="48.95" y="573.86" width="14.25" height="14.27" fill="#20f7a2"/>
<rect x="63.17" y="573.86" width="14.25" height="14.27" fill="#d5173d"/>
<rect x="77.40" y="573.86" width="14.25" height="14.27" fill="#1babff"/>
<rect x="91.62" y="573.86" width="14.25" height="14.27" fill="#20e6cc"/>
<rect x="105.84" y="573.86" width="14.25" height="14.27" fill="#20fcee"/>
<rect x="120.06" y="573.86" width="14.25" height="14.27" fill="#0af7f7"/>
<rect x="134.28" y="573.86" width="14.25" height="14.27" fill="#0ac4ee"/>
<rect x="148.51" y="573.86" width="14.25" height="14.27" fill="#1b6fe6"/>
<rect x="162.73" y="573.86" width="14.25" height="14.27" fill="#0aeeab"/>
<rect x="176.95" y="573.86" width="14.25" height="14.27" fill="#0ae65e"/>
<rect x="191.17" y="573.86" width="14.25" height="14.27" fill="#0af7ab"/>
<rect x="205.39" y="573.86" width="14.25" height="14.27" fill="#0addb3"/>
<rect x="219.62" y="573.86" width="14.25" height="14.27" fill="#1bddff"/>
<rect x="233.84" y="573.86" width="14.25" height="14.27" fill="#0affff"/>
<rect x="248.06" y="573.86" width="14.25" height="14.27" fill="#0ae6b3"/>
<rect x="262.28" y="573.86" width="14.25" height="14.27" fill="#ffdd12"/>
<rect x="276.50" y="573.86" width="14.33" height="14.27" fill="#20f7dd"/>
<rect x="34.50" y="588.10" width="14.48" height="14.27" fill="#0af74e"/>
<rect x="48.95" y="588.10" width="14.25" height="14.27" fill="#f7ff1b"/>
<rect x="63.17" y="588.10" width="14.25" height="14.27" fill="#0addb3"/>
<rect x="77.40" y="588.10" width="14.25" height="14.27" fill="#0ae6f7"/>
<rect x="91.62" y="588.10" width="14.25" height="14.27" fill="#0af7ab"/>
<rect x="105.84" y="588.10" width="14.25" height="14.27" fill="#20eed5"/>
<rect x="120.06" y="588.10" width="14.25" height="14.27" fill="#0af7ab"/>
<rect x="134.28" y="588.10" width="14.25" height="14.27" fill="#0ad5ff"/>
<rect x="148.51" y="588.10" width="14.25" height="14.27" fill="#0ab3e6"/>
<rect x="162.73" y="588.10" width="14.25" height="14.27" fill="#20eea2"/>
<rect x="176.95" y="588.10" width="14.25" height="14.27" fill="#20e63d"/>
<rect x="191.17" y="588.10" width="14.25" height="14.27" fill="#0add6f"/>
<rect x="205.39" y="588.10" width="14.25" height="14.27" fill="#1bdd6f"/>
<rect x="219.62" y="588.10" width="14.25" height="14.27" fill="#0ad5ee"/>
<rect x="233.84" y="588.10" width="14.25" height="14.27" fill="#0aeeb3"/>
<rect x="248.06" y="588.10" width="14.25" height="14.27" fill="#20eea2"/>
<rect x="262.28" y="588.10" width="14.25" height="14.27" fill="#0af7ab"/>
<rect x="276.50" y="588.10" width="14.33" height="14.27" fill="#0addb3"/>
<rect x="34.50" y="602.34" width="14.48" height="14.19" fill="#abf70a"/>
<rect x="48.95" y="602.34" width="14.25" height="14.19" fill="#ffab00"/>
<rect x="63.17" y="602.34" width="14.25" height="14.19" fill="#0af7b3"/>
<rect x="77.40" y="602.34" width="14.25" height="14.19" fill="#20f7dd"/>
<rect x="91.62" y="602.34" width="14.25" height="14.19" fill="#0af7b3"/>
<rect x="105.84" y="602.34" width="14.25" height="14.19" fill="#ff671b"/>
<rect x="120.06" y="602.34" width="14.25" height="14.19" fill="#0af7ab"/>
<rect x="134.28" y="602.34" width="14.25" height="14.19" fill="#ffffff"/>
<rect x="148.51" y="602.34" width="14.25" height="14.19" fill="#0addff"/>
<rect x="162.73" y="602.34" width="14.25" height="14.19" fill="#20e6d5"/>
<rect x="176.95" y="602.34" width="14.25" height="14.19" fill="#0af74e"/>
<rect x="191.17" y="602.34" width="14.25" height="14.19" fill="#0add6f"/>
<rect x="205.39" y="602.34" width="14.25" height="14.19" fill="#20e691"/>
<rect x="219.62" y="602.34" width="14.25" height="14.19" fill="#0afff7"/>
<rect x="233.84" y="602.34" width="14.25" height="14.19" fill="#20eed5"/>
<rect x="248.06" y="602.34" width="14.25" height="14.19" fill="#0af7ab"/>
<rect x="262.28" y="602.34" width="14.25" height="14.19" fill="#0aeeb3"/>
<rect x="276.50" y="602.34" width="14.33" height="14.19" fill="#0addee"/>
<path d="M48.95 360.30V616.50M34.50 374.50H290.80M63.17 360.30V616.50M34.50 388.74H290.80M77.40 360.30V616.50M34.50 402.98H290.80M91.62 360.30V616.50M34.50 417.22H290.80M105.84 360.30V616.50M34.50 431.46H290.80M120.06 360.30V616.50M34.50 445.70H290.80M134.28 360.30V616.50M34.50 459.94H290.80M148.51 360.30V616.50M34.50 474.18H290.80M162.73 360.30V616.50M34.50 488.42H290.80M176.95 360.30V616.50M34.50 502.66H290.80M191.17 360.30V616.50M34.50 516.90H290.80M205.39 360.30V616.50M34.50 531.14H290.80M219.62 360.30V616.50M34.50 545.38H290.80M233.84 360.30V616.50M34.50 559.62H290.80M248.06 360.30V616.50M34.50 573.86H290.80M262.28 360.30V616.50M34.50 588.10H290.80M276.50 360.30V616.50M34.50 602.34H290.80" stroke="#000" stroke-opacity="0.78" stroke-width="1.15" fill="none"/>
<path d="M41.73 360.30v3M41.73 616.50v-3M34.50 367.40h3M290.80 367.40h-3M56.06 360.30v3M56.06 616.50v-3M34.50 381.62h3M290.80 381.62h-3M70.28 360.30v3M70.28 616.50v-3M34.50 395.86h3M290.80 395.86h-3M84.51 360.30v3M84.51 616.50v-3M34.50 410.10h3M290.80 410.10h-3M98.73 360.30v3M98.73 616.50v-3M34.50 424.34h3M290.80 424.34h-3M112.95 360.30v3M112.95 616.50v-3M34.50 438.58h3M290.80 438.58h-3M127.17 360.30v3M127.17 616.50v-3M34.50 452.82h3M290.80 452.82h-3M141.39 360.30v3M141.39 616.50v-3M34.50 467.06h3M290.80 467.06h-3M155.62 360.30v3M155.62 616.50v-3M34.50 481.30h3M290.80 481.30h-3M169.84 360.30v3M169.84 616.50v-3M34.50 495.54h3M290.80 495.54h-3M184.06 360.30v3M184.06 616.50v-3M34.50 509.78h3M290.80 509.78h-3M198.28 360.30v3M198.28 616.50v-3M34.50 524.02h3M290.80 524.02h-3M212.50 360.30v3M212.50 616.50v-3M34.50 538.26h3M290.80 538.26h-3M226.73 360.30v3M226.73 616.50v-3M34.50 552.50h3M290.80 552.50h-3M240.95 360.30v3M240.95 616.50v-3M34.50 566.74h3M290.80 566.74h-3M255.17 360.30v3M255.17 616.50v-3M34.50 580.98h3M290.80 580.98h-3M269.39 360.30v3M269.39 616.50v-3M34.50 595.22h3M290.80 595.22h-3M283.65 360.30v3M283.65 616.50v-3M34.50 609.42h3M290.80 609.42h-3" stroke="#000" stroke-opacity="0.7" stroke-width="1" fill="none"/>
<rect x="34.50" y="360.30" width="256.30" height="256.20" fill="none" stroke="#301828" stroke-opacity="0.72" stroke-width="1.1"/>
<rect x="34.20" y="388.69" width="28.45" height="14.14" fill="none" stroke="#f04028" stroke-width="2.65"/>
<rect x="105.54" y="388.69" width="14.00" height="14.14" fill="none" stroke="#f04028" stroke-width="2.65"/>
<rect x="345.25" y="360.30" width="14.33" height="14.23" fill="#0ae60a"/>
<rect x="359.55" y="360.30" width="14.24" height="14.23" fill="#0ae60a"/>
<rect x="373.75" y="360.30" width="14.24" height="14.23" fill="#20f7ab"/>
<rect x="387.96" y="360.30" width="14.24" height="14.23" fill="#0ae6b3"/>
<rect x="402.16" y="360.30" width="14.24" height="14.23" fill="#0af74e"/>
<rect x="416.37" y="360.30" width="14.24" height="14.23" fill="#2cf700"/>
<rect x="430.58" y="360.30" width="14.24" height="14.23" fill="#0add1b"/>
<rect x="444.78" y="360.30" width="14.24" height="14.23" fill="#1bee3d"/>
<rect x="458.99" y="360.30" width="14.24" height="14.23" fill="#0af74e"/>
<rect x="473.19" y="360.30" width="14.24" height="14.23" fill="#0add1b"/>
<rect x="487.40" y="360.30" width="14.24" height="14.23" fill="#1bf700"/>
<rect x="501.61" y="360.30" width="14.24" height="14.23" fill="#4ef71b"/>
<rect x="515.81" y="360.30" width="14.24" height="14.23" fill="#1bf700"/>
<rect x="530.02" y="360.30" width="14.24" height="14.23" fill="#20e6cc"/>
<rect x="544.22" y="360.30" width="14.24" height="14.23" fill="#0affff"/>
<rect x="558.43" y="360.30" width="14.24" height="14.23" fill="#0af74e"/>
<rect x="572.64" y="360.30" width="14.24" height="14.23" fill="#0add6f"/>
<rect x="586.84" y="360.30" width="14.89" height="14.23" fill="#abf70a"/>
<rect x="345.25" y="374.50" width="14.33" height="14.27" fill="#5ee61b"/>
<rect x="359.55" y="374.50" width="14.24" height="14.27" fill="#3df70a"/>
<rect x="373.75" y="374.50" width="14.24" height="14.27" fill="#0aee4e"/>
<rect x="387.96" y="374.50" width="14.24" height="14.27" fill="#0ae65e"/>
<rect x="402.16" y="374.50" width="14.24" height="14.27" fill="#1be62c"/>
<rect x="416.37" y="374.50" width="14.24" height="14.27" fill="#0ae60a"/>
<rect x="430.58" y="374.50" width="14.24" height="14.27" fill="#0add6f"/>
<rect x="444.78" y="374.50" width="14.24" height="14.27" fill="#0af74e"/>
<rect x="458.99" y="374.50" width="14.24" height="14.27" fill="#0aee5e"/>
<rect x="473.19" y="374.50" width="14.24" height="14.27" fill="#0ae65e"/>
<rect x="487.40" y="374.50" width="14.24" height="14.27" fill="#0ae60a"/>
<rect x="501.61" y="374.50" width="14.24" height="14.27" fill="#1bdd2c"/>
<rect x="515.81" y="374.50" width="14.24" height="14.27" fill="#0af74e"/>
<rect x="530.02" y="374.50" width="14.24" height="14.27" fill="#0af7a2"/>
<rect x="544.22" y="374.50" width="14.24" height="14.27" fill="#20f7a2"/>
<rect x="558.43" y="374.50" width="14.24" height="14.27" fill="#0ae65e"/>
<rect x="572.64" y="374.50" width="14.24" height="14.27" fill="#5ee61b"/>
<rect x="586.84" y="374.50" width="14.89" height="14.27" fill="#0ae65e"/>
<rect x="345.25" y="388.74" width="14.33" height="14.27" fill="#e6d50a"/>
<rect x="359.55" y="388.74" width="14.24" height="14.27" fill="#ffab02"/>
<rect x="373.75" y="388.74" width="14.24" height="14.27" fill="#f7f72c"/>
<rect x="387.96" y="388.74" width="14.24" height="14.27" fill="#1be63d"/>
<rect x="402.16" y="388.74" width="14.24" height="14.27" fill="#6fe60a"/>
<rect x="416.37" y="388.74" width="14.24" height="14.27" fill="#c4e60a"/>
<rect x="430.58" y="388.74" width="14.24" height="14.27" fill="#20f7ab"/>
<rect x="444.78" y="388.74" width="14.24" height="14.27" fill="#4ef71b"/>
<rect x="458.99" y="388.74" width="14.24" height="14.27" fill="#0ae60a"/>
<rect x="473.19" y="388.74" width="14.24" height="14.27" fill="#0ae60a"/>
<rect x="487.40" y="388.74" width="14.24" height="14.27" fill="#1bf700"/>
<rect x="501.61" y="388.74" width="14.24" height="14.27" fill="#4ef71b"/>
<rect x="515.81" y="388.74" width="14.24" height="14.27" fill="#1bee4e"/>
<rect x="530.02" y="388.74" width="14.24" height="14.27" fill="#1be680"/>
<rect x="544.22" y="388.74" width="14.24" height="14.27" fill="#1bf74e"/>
<rect x="558.43" y="388.74" width="14.24" height="14.27" fill="#e6d51b"/>
<rect x="572.64" y="388.74" width="14.24" height="14.27" fill="#ee9123"/>
<rect x="586.84" y="388.74" width="14.89" height="14.27" fill="#0af74e"/>
<rect x="345.25" y="402.98" width="14.33" height="14.27" fill="#0add0a"/>
<rect x="359.55" y="402.98" width="14.24" height="14.27" fill="#1be61b"/>
<rect x="373.75" y="402.98" width="14.24" height="14.27" fill="#20e691"/>
<rect x="387.96" y="402.98" width="14.24" height="14.27" fill="#0ae6b3"/>
<rect x="402.16" y="402.98" width="14.24" height="14.27" fill="#0af74e"/>
<rect x="416.37" y="402.98" width="14.24" height="14.27" fill="#2cf700"/>
<rect x="430.58" y="402.98" width="14.24" height="14.27" fill="#1bf73d"/>
<rect x="444.78" y="402.98" width="14.24" height="14.27" fill="#0ae60a"/>
<rect x="458.99" y="402.98" width="14.24" height="14.27" fill="#0aee5e"/>
<rect x="473.19" y="402.98" width="14.24" height="14.27" fill="#0add6f"/>
<rect x="487.40" y="402.98" width="14.24" height="14.27" fill="#1bee4e"/>
<rect x="501.61" y="402.98" width="14.24" height="14.27" fill="#1bee4e"/>
<rect x="515.81" y="402.98" width="14.24" height="14.27" fill="#1bdd2c"/>
<rect x="530.02" y="402.98" width="14.24" height="14.27" fill="#20e6cc"/>
<rect x="544.22" y="402.98" width="14.24" height="14.27" fill="#91f70a"/>
<rect x="558.43" y="402.98" width="14.24" height="14.27" fill="#0af7a2"/>
<rect x="572.64" y="402.98" width="14.24" height="14.27" fill="#20f7a2"/>
<rect x="586.84" y="402.98" width="14.89" height="14.27" fill="#0af74e"/>
<rect x="345.25" y="417.22" width="14.33" height="14.27" fill="#6fe60a"/>
<rect x="359.55" y="417.22" width="14.24" height="14.27" fill="#3df70a"/>
<rect x="373.75" y="417.22" width="14.24" height="14.27" fill="#0af73d"/>
<rect x="387.96" y="417.22" width="14.24" height="14.27" fill="#20f7a2"/>
<rect x="402.16" y="417.22" width="14.24" height="14.27" fill="#2cf700"/>
<rect x="416.37" y="417.22" width="14.24" height="14.27" fill="#4ef71b"/>
<rect x="430.58" y="417.22" width="14.24" height="14.27" fill="#5ee61b"/>
<rect x="444.78" y="417.22" width="14.24" height="14.27" fill="#6fee1b"/>
<rect x="458.99" y="417.22" width="14.24" height="14.27" fill="#1be600"/>
<rect x="473.19" y="417.22" width="14.24" height="14.27" fill="#1bee3d"/>
<rect x="487.40" y="417.22" width="14.24" height="14.27" fill="#2cf700"/>
<rect x="501.61" y="417.22" width="14.24" height="14.27" fill="#1bf700"/>
<rect x="515.81" y="417.22" width="14.24" height="14.27" fill="#5ee61b"/>
<rect x="530.02" y="417.22" width="14.24" height="14.27" fill="#80ee00"/>
<rect x="544.22" y="417.22" width="14.24" height="14.27" fill="#bbee1b"/>
<rect x="558.43" y="417.22" width="14.24" height="14.27" fill="#20f7a2"/>
<rect x="572.64" y="417.22" width="14.24" height="14.27" fill="#0af74e"/>
<rect x="586.84" y="417.22" width="14.89" height="14.27" fill="#0af74e"/>
<rect x="345.25" y="431.46" width="14.33" height="14.27" fill="#0ae65e"/>
<rect x="359.55" y="431.46" width="14.24" height="14.27" fill="#20e691"/>
<rect x="373.75" y="431.46" width="14.24" height="14.27" fill="#20eed5"/>
<rect x="387.96" y="431.46" width="14.24" height="14.27" fill="#0addb3"/>
<rect x="402.16" y="431.46" width="14.24" height="14.27" fill="#20f7a2"/>
<rect x="416.37" y="431.46" width="14.24" height="14.27" fill="#0af7ab"/>
<rect x="430.58" y="431.46" width="14.24" height="14.27" fill="#0ae64e"/>
<rect x="444.78" y="431.46" width="14.24" height="14.27" fill="#1bddee"/>
<rect x="458.99" y="431.46" width="14.24" height="14.27" fill="#0aeef7"/>
<rect x="473.19" y="431.46" width="14.24" height="14.27" fill="#20f7ab"/>
<rect x="487.40" y="431.46" width="14.24" height="14.27" fill="#0af74e"/>
<rect x="501.61" y="431.46" width="14.24" height="14.27" fill="#0af74e"/>
<rect x="515.81" y="431.46" width="14.24" height="14.27" fill="#ffdd1b"/>
<rect x="530.02" y="431.46" width="14.24" height="14.27" fill="#0affff"/>
<rect x="544.22" y="431.46" width="14.24" height="14.27" fill="#0aeef7"/>
<rect x="558.43" y="431.46" width="14.24" height="14.27" fill="#0af7a2"/>
<rect x="572.64" y="431.46" width="14.24" height="14.27" fill="#0ae6b3"/>
<rect x="586.84" y="431.46" width="14.89" height="14.27" fill="#0addbb"/>
<rect x="345.25" y="445.70" width="14.33" height="14.27" fill="#0af74e"/>
<rect x="359.55" y="445.70" width="14.24" height="14.27" fill="#0af73d"/>
<rect x="373.75" y="445.70" width="14.24" height="14.27" fill="#20f7dd"/>
<rect x="387.96" y="445.70" width="14.24" height="14.27" fill="#0addb3"/>
<rect x="402.16" y="445.70" width="14.24" height="14.27" fill="#20ee91"/>
<rect x="416.37" y="445.70" width="14.24" height="14.27" fill="#0ae6b3"/>
<rect x="430.58" y="445.70" width="14.24" height="14.27" fill="#20ffee"/>
<rect x="444.78" y="445.70" width="14.24" height="14.27" fill="#0af7b3"/>
<rect x="458.99" y="445.70" width="14.24" height="14.27" fill="#20f7ab"/>
<rect x="473.19" y="445.70" width="14.24" height="14.27" fill="#0aeeb3"/>
<rect x="487.40" y="445.70" width="14.24" height="14.27" fill="#0add6f"/>
<rect x="501.61" y="445.70" width="14.24" height="14.27" fill="#1bee3d"/>
<rect x="515.81" y="445.70" width="14.24" height="14.27" fill="#0af74e"/>
<rect x="530.02" y="445.70" width="14.24" height="14.27" fill="#1bd5e6"/>
<rect x="544.22" y="445.70" width="14.24" height="14.27" fill="#0adde6"/>
<rect x="558.43" y="445.70" width="14.24" height="14.27" fill="#20f7dd"/>
<rect x="572.64" y="445.70" width="14.24" height="14.27" fill="#20f7dd"/>
<rect x="586.84" y="445.70" width="14.89" height="14.27" fill="#1bd5ee"/>
<rect x="345.25" y="459.94" width="14.33" height="14.27" fill="#20ffee"/>
<rect x="359.55" y="459.94" width="14.24" height="14.27" fill="#20ddf7"/>
<rect x="373.75" y="459.94" width="14.24" height="14.27" fill="#0accff"/>
<rect x="387.96" y="459.94" width="14.24" height="14.27" fill="#20ddff"/>
<rect x="402.16" y="459.94" width="14.24" height="14.27" fill="#20ddee"/>
<rect x="416.37" y="459.94" width="14.24" height="14.27" fill="#0afff7"/>
<rect x="430.58" y="459.94" width="14.24" height="14.27" fill="#20ddf7"/>
<rect x="444.78" y="459.94" width="14.24" height="14.27" fill="#0afff7"/>
<rect x="458.99" y="459.94" width="14.24" height="14.27" fill="#0aeeab"/>
<rect x="473.19" y="459.94" width="14.24" height="14.27" fill="#0ae60a"/>
<rect x="487.40" y="459.94" width="14.24" height="14.27" fill="#c4f71b"/>
<rect x="501.61" y="459.94" width="14.24" height="14.27" fill="#20f7cc"/>
<rect x="515.81" y="459.94" width="14.24" height="14.27" fill="#0ad5e6"/>
<rect x="530.02" y="459.94" width="14.24" height="14.27" fill="#1280e6"/>
<rect x="544.22" y="459.94" width="14.24" height="14.27" fill="#1b78e6"/>
<rect x="558.43" y="459.94" width="14.24" height="14.27" fill="#1bddff"/>
<rect x="572.64" y="459.94" width="14.24" height="14.27" fill="#0ad5ff"/>
<rect x="586.84" y="459.94" width="14.89" height="14.27" fill="#20f7ab"/>
<rect x="345.25" y="474.18" width="14.33" height="14.27" fill="#20ddff"/>
<rect x="359.55" y="474.18" width="14.24" height="14.27" fill="#20f7dd"/>
<rect x="373.75" y="474.18" width="14.24" height="14.27" fill="#0accff"/>
<rect x="387.96" y="474.18" width="14.24" height="14.27" fill="#0ab3ee"/>
<rect x="402.16" y="474.18" width="14.24" height="14.27" fill="#0a9af7"/>
<rect x="416.37" y="474.18" width="14.24" height="14.27" fill="#0ae6b3"/>
<rect x="430.58" y="474.18" width="14.24" height="14.27" fill="#20fce6"/>
<rect x="444.78" y="474.18" width="14.24" height="14.27" fill="#0addee"/>
<rect x="458.99" y="474.18" width="14.24" height="14.27" fill="#f7f70a"/>
<rect x="473.19" y="474.18" width="14.24" height="14.27" fill="#0aee4e"/>
<rect x="487.40" y="474.18" width="14.24" height="14.27" fill="#0af74e"/>
<rect x="501.61" y="474.18" width="14.24" height="14.27" fill="#0af7b3"/>
<rect x="515.81" y="474.18" width="14.24" height="14.27" fill="#20eeab"/>
<rect x="530.02" y="474.18" width="14.24" height="14.27" fill="#1babff"/>
<rect x="544.22" y="474.18" width="14.24" height="14.27" fill="#0a9af7"/>
<rect x="558.43" y="474.18" width="14.24" height="14.27" fill="#0af7f7"/>
<rect x="572.64" y="474.18" width="14.24" height="14.27" fill="#0affff"/>
<rect x="586.84" y="474.18" width="14.89" height="14.27" fill="#20eed5"/>
<rect x="345.25" y="488.42" width="14.33" height="14.27" fill="#0ab3e6"/>
<rect x="359.55" y="488.42" width="14.24" height="14.27" fill="#1bcce6"/>
<rect x="373.75" y="488.42" width="14.24" height="14.27" fill="#023df7"/>
<rect x="387.96" y="488.42" width="14.24" height="14.27" fill="#1b6ff7"/>
<rect x="402.16" y="488.42" width="14.24" height="14.27" fill="#0a9af7"/>
<rect x="416.37" y="488.42" width="14.24" height="14.27" fill="#1bddff"/>
<rect x="430.58" y="488.42" width="14.24" height="14.27" fill="#0ad5e6"/>
<rect x="444.78" y="488.42" width="14.24" height="14.27" fill="#0af7b3"/>
<rect x="458.99" y="488.42" width="14.24" height="14.27" fill="#20ee3d"/>
<rect x="473.19" y="488.42" width="14.24" height="14.27" fill="#0acce6"/>
<rect x="487.40" y="488.42" width="14.24" height="14.27" fill="#0addee"/>
<rect x="501.61" y="488.42" width="14.24" height="14.27" fill="#20f7e6"/>
<rect x="515.81" y="488.42" width="14.24" height="14.27" fill="#1bccee"/>
<rect x="530.02" y="488.42" width="14.24" height="14.27" fill="#126fe6"/>
<rect x="544.22" y="488.42" width="14.24" height="14.27" fill="#0aabe6"/>
<rect x="558.43" y="488.42" width="14.24" height="14.27" fill="#0acce6"/>
<rect x="572.64" y="488.42" width="14.24" height="14.27" fill="#0a9aff"/>
<rect x="586.84" y="488.42" width="14.89" height="14.27" fill="#0accff"/>
<rect x="345.25" y="502.66" width="14.33" height="14.27" fill="#0affff"/>
<rect x="359.55" y="502.66" width="14.24" height="14.27" fill="#20eed5"/>
<rect x="373.75" y="502.66" width="14.24" height="14.27" fill="#0ad5ff"/>
<rect x="387.96" y="502.66" width="14.24" height="14.27" fill="#1babee"/>
<rect x="402.16" y="502.66" width="14.24" height="14.27" fill="#0accf7"/>
<rect x="416.37" y="502.66" width="14.24" height="14.27" fill="#0addbb"/>
<rect x="430.58" y="502.66" width="14.24" height="14.27" fill="#0addb3"/>
<rect x="444.78" y="502.66" width="14.24" height="14.27" fill="#0add6f"/>
<rect x="458.99" y="502.66" width="14.24" height="14.27" fill="#0affff"/>
<rect x="473.19" y="502.66" width="14.24" height="14.27" fill="#20f7dd"/>
<rect x="487.40" y="502.66" width="14.24" height="14.27" fill="#20f7ab"/>
<rect x="501.61" y="502.66" width="14.24" height="14.27" fill="#20f7ab"/>
<rect x="515.81" y="502.66" width="14.24" height="14.27" fill="#0af7ab"/>
<rect x="530.02" y="502.66" width="14.24" height="14.27" fill="#0a80ee"/>
<rect x="544.22" y="502.66" width="14.24" height="14.27" fill="#0a80e6"/>
<rect x="558.43" y="502.66" width="14.24" height="14.27" fill="#0af7f7"/>
<rect x="572.64" y="502.66" width="14.24" height="14.27" fill="#20e6cc"/>
<rect x="586.84" y="502.66" width="14.89" height="14.27" fill="#0ad5e6"/>
<rect x="345.25" y="516.90" width="14.33" height="14.27" fill="#0ae6b3"/>
<rect x="359.55" y="516.90" width="14.24" height="14.27" fill="#1bdd6f"/>
<rect x="373.75" y="516.90" width="14.24" height="14.27" fill="#0af7ab"/>
<rect x="387.96" y="516.90" width="14.24" height="14.27" fill="#0addb3"/>
<rect x="402.16" y="516.90" width="14.24" height="14.27" fill="#20eed5"/>
<rect x="416.37" y="516.90" width="14.24" height="14.27" fill="#0ae64e"/>
<rect x="430.58" y="516.90" width="14.24" height="14.27" fill="#abf70a"/>
<rect x="444.78" y="516.90" width="14.24" height="14.27" fill="#0ae65e"/>
<rect x="458.99" y="516.90" width="14.24" height="14.27" fill="#20f7ab"/>
<rect x="473.19" y="516.90" width="14.24" height="14.27" fill="#0ae63d"/>
<rect x="487.40" y="516.90" width="14.24" height="14.27" fill="#20f73d"/>
<rect x="501.61" y="516.90" width="14.24" height="14.27" fill="#20e62c"/>
<rect x="515.81" y="516.90" width="14.24" height="14.27" fill="#3dee23"/>
<rect x="530.02" y="516.90" width="14.24" height="14.27" fill="#20f7a2"/>
<rect x="544.22" y="516.90" width="14.24" height="14.27" fill="#20f7a2"/>
<rect x="558.43" y="516.90" width="14.24" height="14.27" fill="#0af73d"/>
<rect x="572.64" y="516.90" width="14.24" height="14.27" fill="#0add6f"/>
<rect x="586.84" y="516.90" width="14.89" height="14.27" fill="#0add5e"/>
<rect x="345.25" y="531.14" width="14.33" height="14.27" fill="#20dd2c"/>
<rect x="359.55" y="531.14" width="14.24" height="14.27" fill="#20f73d"/>
<rect x="373.75" y="531.14" width="14.24" height="14.27" fill="#0ae65e"/>
<rect x="387.96" y="531.14" width="14.24" height="14.27" fill="#0add5e"/>
<rect x="402.16" y="531.14" width="14.24" height="14.27" fill="#0af74e"/>
<rect x="416.37" y="531.14" width="14.24" height="14.27" fill="#4ef71b"/>
<rect x="430.58" y="531.14" width="14.24" height="14.27" fill="#0af7ab"/>
<rect x="444.78" y="531.14" width="14.24" height="14.27" fill="#20ee91"/>
<rect x="458.99" y="531.14" width="14.24" height="14.27" fill="#0af7ab"/>
<rect x="473.19" y="531.14" width="14.24" height="14.27" fill="#1bdd6f"/>
<rect x="487.40" y="531.14" width="14.24" height="14.27" fill="#20f7a2"/>
<rect x="501.61" y="531.14" width="14.24" height="14.27" fill="#0ae65e"/>
<rect x="515.81" y="531.14" width="14.24" height="14.27" fill="#20ee91"/>
<rect x="530.02" y="531.14" width="14.24" height="14.27" fill="#0af7ab"/>
<rect x="544.22" y="531.14" width="14.24" height="14.27" fill="#20f7a2"/>
<rect x="558.43" y="531.14" width="14.24" height="14.27" fill="#20f7a2"/>
<rect x="572.64" y="531.14" width="14.24" height="14.27" fill="#20ee91"/>
<rect x="586.84" y="531.14" width="14.89" height="14.27" fill="#20f7a2"/>
<rect x="345.25" y="545.38" width="14.33" height="14.27" fill="#0aeeab"/>
<rect x="359.55" y="545.38" width="14.24" height="14.27" fill="#0ae6b3"/>
<rect x="373.75" y="545.38" width="14.24" height="14.27" fill="#0af7ab"/>
<rect x="387.96" y="545.38" width="14.24" height="14.27" fill="#20ee91"/>
<rect x="402.16" y="545.38" width="14.24" height="14.27" fill="#ff5e0a"/>
<rect x="416.37" y="545.38" width="14.24" height="14.27" fill="#0ae6b3"/>
<rect x="430.58" y="545.38" width="14.24" height="14.27" fill="#0af7ab"/>
<rect x="444.78" y="545.38" width="14.24" height="14.27" fill="#0af7b3"/>
<rect x="458.99" y="545.38" width="14.24" height="14.27" fill="#0ae6b3"/>
<rect x="473.19" y="545.38" width="14.24" height="14.27" fill="#0ad5ee"/>
<rect x="487.40" y="545.38" width="14.24" height="14.27" fill="#20eed5"/>
<rect x="501.61" y="545.38" width="14.24" height="14.27" fill="#0af7f7"/>
<rect x="515.81" y="545.38" width="14.24" height="14.27" fill="#20e6cc"/>
<rect x="530.02" y="545.38" width="14.24" height="14.27" fill="#0afff7"/>
<rect x="544.22" y="545.38" width="14.24" height="14.27" fill="#20eecc"/>
<rect x="558.43" y="545.38" width="14.24" height="14.27" fill="#0afff7"/>
<rect x="572.64" y="545.38" width="14.24" height="14.27" fill="#20fce6"/>
<rect x="586.84" y="545.38" width="14.89" height="14.27" fill="#0af7f7"/>
<rect x="345.25" y="559.62" width="14.33" height="14.27" fill="#20ddff"/>
<rect x="359.55" y="559.62" width="14.24" height="14.27" fill="#0addee"/>
<rect x="373.75" y="559.62" width="14.24" height="14.27" fill="#0af7ab"/>
<rect x="387.96" y="559.62" width="14.24" height="14.27" fill="#91ee00"/>
<rect x="402.16" y="559.62" width="14.24" height="14.27" fill="#0accf7"/>
<rect x="416.37" y="559.62" width="14.24" height="14.27" fill="#1bddff"/>
<rect x="430.58" y="559.62" width="14.24" height="14.27" fill="#2cb3f7"/>
<rect x="444.78" y="559.62" width="14.24" height="14.27" fill="#0abbee"/>
<rect x="458.99" y="559.62" width="14.24" height="14.27" fill="#0accf7"/>
<rect x="473.19" y="559.62" width="14.24" height="14.27" fill="#0ac4f7"/>
<rect x="487.40" y="559.62" width="14.24" height="14.27" fill="#20ddff"/>
<rect x="501.61" y="559.62" width="14.24" height="14.27" fill="#0aa2e6"/>
<rect x="515.81" y="559.62" width="14.24" height="14.27" fill="#0aa2e6"/>
<rect x="530.02" y="559.62" width="14.24" height="14.27" fill="#0aa2ff"/>
<rect x="544.22" y="559.62" width="14.24" height="14.27" fill="#0aabe6"/>
<rect x="558.43" y="559.62" width="14.24" height="14.27" fill="#0aabe6"/>
<rect x="572.64" y="559.62" width="14.24" height="14.27" fill="#20b3f7"/>
<rect x="586.84" y="559.62" width="14.89" height="14.27" fill="#0a91f7"/>
<rect x="345.25" y="573.86" width="14.33" height="14.27" fill="#0af74e"/>
<rect x="359.55" y="573.86" width="14.24" height="14.27" fill="#20f7a2"/>
<rect x="373.75" y="573.86" width="14.24" height="14.27" fill="#0ae60a"/>
<rect x="387.96" y="573.86" width="14.24" height="14.27" fill="#20ccf7"/>
<rect x="402.16" y="573.86" width="14.24" height="14.27" fill="#0af7ab"/>
<rect x="416.37" y="573.86" width="14.24" height="14.27" fill="#0af7ab"/>
<rect x="430.58" y="573.86" width="14.24" height="14.27" fill="#20fff7"/>
<rect x="444.78" y="573.86" width="14.24" height="14.27" fill="#0af7ab"/>
<rect x="458.99" y="573.86" width="14.24" height="14.27" fill="#0addb3"/>
<rect x="473.19" y="573.86" width="14.24" height="14.27" fill="#0afff7"/>
<rect x="487.40" y="573.86" width="14.24" height="14.27" fill="#0af7ab"/>
<rect x="501.61" y="573.86" width="14.24" height="14.27" fill="#0af7ab"/>
<rect x="515.81" y="573.86" width="14.24" height="14.27" fill="#0aeeab"/>
<rect x="530.02" y="573.86" width="14.24" height="14.27" fill="#0accf7"/>
<rect x="544.22" y="573.86" width="14.24" height="14.27" fill="#1bddff"/>
<rect x="558.43" y="573.86" width="14.24" height="14.27" fill="#0af7f7"/>
<rect x="572.64" y="573.86" width="14.24" height="14.27" fill="#0ae6b3"/>
<rect x="586.84" y="573.86" width="14.89" height="14.27" fill="#0afff7"/>
<rect x="345.25" y="588.10" width="14.33" height="14.27" fill="#20ee3d"/>
<rect x="359.55" y="588.10" width="14.24" height="14.27" fill="#0aee5e"/>
<rect x="373.75" y="588.10" width="14.24" height="14.27" fill="#20eea2"/>
<rect x="387.96" y="588.10" width="14.24" height="14.27" fill="#20f7a2"/>
<rect x="402.16" y="588.10" width="14.24" height="14.27" fill="#1bdd6f"/>
<rect x="416.37" y="588.10" width="14.24" height="14.27" fill="#0af74e"/>
<rect x="430.58" y="588.10" width="14.24" height="14.27" fill="#0af7ab"/>
<rect x="444.78" y="588.10" width="14.24" height="14.27" fill="#20f7a2"/>
<rect x="458.99" y="588.10" width="14.24" height="14.27" fill="#0add6f"/>
<rect x="473.19" y="588.10" width="14.24" height="14.27" fill="#0ae6b3"/>
<rect x="487.40" y="588.10" width="14.24" height="14.27" fill="#0ae64e"/>
<rect x="501.61" y="588.10" width="14.24" height="14.27" fill="#1bdd5e"/>
<rect x="515.81" y="588.10" width="14.24" height="14.27" fill="#20e691"/>
<rect x="530.02" y="588.10" width="14.24" height="14.27" fill="#0aeeee"/>
<rect x="544.22" y="588.10" width="14.24" height="14.27" fill="#0af7b3"/>
<rect x="558.43" y="588.10" width="14.24" height="14.27" fill="#20f7d5"/>
<rect x="572.64" y="588.10" width="14.24" height="14.27" fill="#0aeeab"/>
<rect x="586.84" y="588.10" width="14.89" height="14.27" fill="#0af7ab"/>
<rect x="345.25" y="602.34" width="14.33" height="14.19" fill="#0af7ab"/>
<rect x="359.55" y="602.34" width="14.24" height="14.19" fill="#20f7ab"/>
<rect x="373.75" y="602.34" width="14.24" height="14.19" fill="#0ae6ab"/>
<rect x="387.96" y="602.34" width="14.24" height="14.19" fill="#0addb3"/>
<rect x="402.16" y="602.34" width="14.24" height="14.19" fill="#20eed5"/>
<rect x="416.37" y="602.34" width="14.24" height="14.19" fill="#20ee91"/>
<rect x="430.58" y="602.34" width="14.24" height="14.19" fill="#0ae6ab"/>
<rect x="444.78" y="602.34" width="14.24" height="14.19" fill="#0af7ab"/>
<rect x="458.99" y="602.34" width="14.24" height="14.19" fill="#20eedd"/>
<rect x="473.19" y="602.34" width="14.24" height="14.19" fill="#20f7e6"/>
<rect x="487.40" y="602.34" width="14.24" height="14.19" fill="#0addb3"/>
<rect x="501.61" y="602.34" width="14.24" height="14.19" fill="#1bddc4"/>
<rect x="515.81" y="602.34" width="14.24" height="14.19" fill="#20ddc4"/>
<rect x="530.02" y="602.34" width="14.24" height="14.19" fill="#1bddff"/>
<rect x="544.22" y="602.34" width="14.24" height="14.19" fill="#0aeef7"/>
<rect x="558.43" y="602.34" width="14.24" height="14.19" fill="#1bd5ee"/>
<rect x="572.64" y="602.34" width="14.24" height="14.19" fill="#0afff7"/>
<rect x="586.84" y="602.34" width="14.89" height="14.19" fill="#0af7ee"/>
<path d="M359.55 360.30V616.50M345.25 374.50H601.70M373.75 360.30V616.50M345.25 388.74H601.70M387.96 360.30V616.50M345.25 402.98H601.70M402.16 360.30V616.50M345.25 417.22H601.70M416.37 360.30V616.50M345.25 431.46H601.70M430.58 360.30V616.50M345.25 445.70H601.70M444.78 360.30V616.50M345.25 459.94H601.70M458.99 360.30V616.50M345.25 474.18H601.70M473.19 360.30V616.50M345.25 488.42H601.70M487.40 360.30V616.50M345.25 502.66H601.70M501.61 360.30V616.50M345.25 516.90H601.70M515.81 360.30V616.50M345.25 531.14H601.70M530.02 360.30V616.50M345.25 545.38H601.70M544.22 360.30V616.50M345.25 559.62H601.70M558.43 360.30V616.50M345.25 573.86H601.70M572.64 360.30V616.50M345.25 588.10H601.70M586.84 360.30V616.50M345.25 602.34H601.70" stroke="#000" stroke-opacity="0.78" stroke-width="1.15" fill="none"/>
<path d="M352.40 360.30v3M352.40 616.50v-3M345.25 367.40h3M601.70 367.40h-3M366.65 360.30v3M366.65 616.50v-3M345.25 381.62h3M601.70 381.62h-3M380.85 360.30v3M380.85 616.50v-3M345.25 395.86h3M601.70 395.86h-3M395.06 360.30v3M395.06 616.50v-3M345.25 410.10h3M601.70 410.10h-3M409.27 360.30v3M409.27 616.50v-3M345.25 424.34h3M601.70 424.34h-3M423.47 360.30v3M423.47 616.50v-3M345.25 438.58h3M601.70 438.58h-3M437.68 360.30v3M437.68 616.50v-3M345.25 452.82h3M601.70 452.82h-3M451.88 360.30v3M451.88 616.50v-3M345.25 467.06h3M601.70 467.06h-3M466.09 360.30v3M466.09 616.50v-3M345.25 481.30h3M601.70 481.30h-3M480.30 360.30v3M480.30 616.50v-3M345.25 495.54h3M601.70 495.54h-3M494.50 360.30v3M494.50 616.50v-3M345.25 509.78h3M601.70 509.78h-3M508.71 360.30v3M508.71 616.50v-3M345.25 524.02h3M601.70 524.02h-3M522.91 360.30v3M522.91 616.50v-3M345.25 538.26h3M601.70 538.26h-3M537.12 360.30v3M537.12 616.50v-3M345.25 552.50h3M601.70 552.50h-3M551.33 360.30v3M551.33 616.50v-3M345.25 566.74h3M601.70 566.74h-3M565.53 360.30v3M565.53 616.50v-3M345.25 580.98h3M601.70 580.98h-3M579.74 360.30v3M579.74 616.50v-3M345.25 595.22h3M601.70 595.22h-3M594.27 360.30v3M594.27 616.50v-3M345.25 609.42h3M601.70 609.42h-3" stroke="#000" stroke-opacity="0.7" stroke-width="1" fill="none"/>
<rect x="345.25" y="360.30" width="256.45" height="256.20" fill="none" stroke="#301828" stroke-opacity="0.72" stroke-width="1.1"/>
<rect x="344.95" y="388.69" width="28.28" height="14.14" fill="none" stroke="#f04028" stroke-width="2.65"/>
<rect x="416.07" y="388.69" width="13.99" height="14.14" fill="none" stroke="#f04028" stroke-width="2.65"/>
<rect x="625.0" y="218.8" width="5.0" height="390.40000000000003" fill="url(#cb)" stroke="#777" stroke-width="1"/>
<path d="M623.00 287.02h2.6M629.40 287.02h2.6M623.00 269.83h2.6M629.40 269.83h2.6M623.00 257.64h2.6M629.40 257.64h2.6M623.00 248.18h2.6M629.40 248.18h2.6M623.00 240.45h2.6M629.40 240.45h2.6M623.00 233.92h2.6M629.40 233.92h2.6M623.00 228.26h2.6M629.40 228.26h2.6M623.00 223.27h2.6M629.40 223.27h2.6M623.00 384.62h2.6M629.40 384.62h2.6M623.00 367.43h2.6M629.40 367.43h2.6M623.00 355.24h2.6M629.40 355.24h2.6M623.00 345.78h2.6M629.40 345.78h2.6M623.00 338.05h2.6M629.40 338.05h2.6M623.00 331.52h2.6M629.40 331.52h2.6M623.00 325.86h2.6M629.40 325.86h2.6M623.00 320.87h2.6M629.40 320.87h2.6M623.00 482.22h2.6M629.40 482.22h2.6M623.00 465.03h2.6M629.40 465.03h2.6M623.00 452.84h2.6M629.40 452.84h2.6M623.00 443.38h2.6M629.40 443.38h2.6M623.00 435.65h2.6M629.40 435.65h2.6M623.00 429.12h2.6M629.40 429.12h2.6M623.00 423.46h2.6M629.40 423.46h2.6M623.00 418.47h2.6M629.40 418.47h2.6M623.00 579.82h2.6M629.40 579.82h2.6M623.00 562.63h2.6M629.40 562.63h2.6M623.00 550.44h2.6M629.40 550.44h2.6M623.00 540.98h2.6M629.40 540.98h2.6M623.00 533.25h2.6M629.40 533.25h2.6M623.00 526.72h2.6M629.40 526.72h2.6M623.00 521.06h2.6M629.40 521.06h2.6M623.00 516.07h2.6M629.40 516.07h2.6" stroke="#222" stroke-width="1" fill="none"/>
<path d="M621 218.80H634M621 316.40H634M621 414.00H634M621 511.60H634M621 609.20H634" stroke="#555" stroke-width="1" fill="none"/>
<rect x="668" y="0" width="2" height="660" fill="#fafafa"/>
</g>
<g transform="translate(162.73,16.26)" font-family="Liberation Sans, sans-serif" font-size="16.5" fill="#000" stroke="#000" stroke-width="0.18" style="font-kerning:none"><text x="-42.66" y="0" xml:space="preserve">Year : 20</text><path d="M560 0L560 1237L215 1010L215 1180L560 1409L740 1409L740 0Z" transform="translate(24.30,0) scale(0.00806,-0.00806)"/><text x="33.48" y="0" xml:space="preserve">2</text></g>
<g transform="translate(32.30,40.96)" font-family="Liberation Sans, sans-serif" font-size="16.5" fill="#000" stroke="#000" stroke-width="0.18" style="font-kerning:none"><path d="M560 0L560 1237L215 1010L215 1180L560 1409L740 1409L740 0Z" transform="translate(-18.35,0) scale(0.00806,-0.00806)"/><text x="-9.18" y="0" xml:space="preserve">8</text></g>
<g transform="translate(32.30,55.15)" font-family="Liberation Sans, sans-serif" font-size="16.5" fill="#000" stroke="#000" stroke-width="0.18" style="font-kerning:none"><path d="M560 0L560 1237L215 1010L215 1180L560 1409L740 1409L740 0Z" transform="translate(-18.35,0) scale(0.00806,-0.00806)"/><text x="-9.18" y="0" xml:space="preserve">7</text></g>
<g transform="translate(32.30,69.33)" font-family="Liberation Sans, sans-serif" font-size="16.5" fill="#000" stroke="#000" stroke-width="0.18" style="font-kerning:none"><path d="M560 0L560 1237L215 1010L215 1180L560 1409L740 1409L740 0Z" transform="translate(-18.35,0) scale(0.00806,-0.00806)"/><text x="-9.18" y="0" xml:space="preserve">6</text></g>
<g transform="translate(32.30,83.52)" font-family="Liberation Sans, sans-serif" font-size="16.5" fill="#000" stroke="#000" stroke-width="0.18" style="font-kerning:none"><path d="M560 0L560 1237L215 1010L215 1180L560 1409L740 1409L740 0Z" transform="translate(-18.35,0) scale(0.00806,-0.00806)"/><text x="-9.18" y="0" xml:space="preserve">5</text></g>
<g transform="translate(32.30,97.71)" font-family="Liberation Sans, sans-serif" font-size="16.5" fill="#000" stroke="#000" stroke-width="0.18" style="font-kerning:none"><path d="M560 0L560 1237L215 1010L215 1180L560 1409L740 1409L740 0Z" transform="translate(-18.35,0) scale(0.00806,-0.00806)"/><text x="-9.18" y="0" xml:space="preserve">4</text></g>
<g transform="translate(32.30,111.91)" font-family="Liberation Sans, sans-serif" font-size="16.5" fill="#000" stroke="#000" stroke-width="0.18" style="font-kerning:none"><path d="M560 0L560 1237L215 1010L215 1180L560 1409L740 1409L740 0Z" transform="translate(-18.35,0) scale(0.00806,-0.00806)"/><text x="-9.18" y="0" xml:space="preserve">3</text></g>
<g transform="translate(32.30,126.09)" font-family="Liberation Sans, sans-serif" font-size="16.5" fill="#000" stroke="#000" stroke-width="0.18" style="font-kerning:none"><path d="M560 0L560 1237L215 1010L215 1180L560 1409L740 1409L740 0Z" transform="translate(-18.35,0) scale(0.00806,-0.00806)"/><text x="-9.18" y="0" xml:space="preserve">2</text></g>
<g transform="translate(32.30,140.28)" font-family="Liberation Sans, sans-serif" font-size="16.5" fill="#000" stroke="#000" stroke-width="0.18" style="font-kerning:none"><path d="M560 0L560 1237L215 1010L215 1180L560 1409L740 1409L740 0Z" transform="translate(-18.35,0) scale(0.00806,-0.00806)"/><path d="M560 0L560 1237L215 1010L215 1180L560 1409L740 1409L740 0Z" transform="translate(-9.18,0) scale(0.00806,-0.00806)"/></g>
<g transform="translate(32.30,154.47)" font-family="Liberation Sans, sans-serif" font-size="16.5" fill="#000" stroke="#000" stroke-width="0.18" style="font-kerning:none"><path d="M560 0L560 1237L215 1010L215 1180L560 1409L740 1409L740 0Z" transform="translate(-18.35,0) scale(0.00806,-0.00806)"/><text x="-9.18" y="0" xml:space="preserve">0</text></g>
<text x="32.30" y="168.66" font-family="Liberation Sans, sans-serif" font-size="16.5" text-anchor="end" fill="#000" stroke="#000" stroke-width="0.18">9</text>
<text x="32.30" y="182.85" font-family="Liberation Sans, sans-serif" font-size="16.5" text-anchor="end" fill="#000" stroke="#000" stroke-width="0.18">8</text>
<text x="32.30" y="197.04" font-family="Liberation Sans, sans-serif" font-size="16.5" text-anchor="end" fill="#000" stroke="#000" stroke-width="0.18">7</text>
<text x="32.30" y="211.23" font-family="Liberation Sans, sans-serif" font-size="16.5" text-anchor="end" fill="#000" stroke="#000" stroke-width="0.18">6</text>
<text x="32.30" y="225.42" font-family="Liberation Sans, sans-serif" font-size="16.5" text-anchor="end" fill="#000" stroke="#000" stroke-width="0.18">5</text>
<text x="32.30" y="239.61" font-family="Liberation Sans, sans-serif" font-size="16.5" text-anchor="end" fill="#000" stroke="#000" stroke-width="0.18">4</text>
<text x="32.30" y="253.80" font-family="Liberation Sans, sans-serif" font-size="16.5" text-anchor="end" fill="#000" stroke="#000" stroke-width="0.18">3</text>
<text x="32.30" y="268.00" font-family="Liberation Sans, sans-serif" font-size="16.5" text-anchor="end" fill="#000" stroke="#000" stroke-width="0.18">2</text>
<g transform="translate(32.30,282.19)" font-family="Liberation Sans, sans-serif" font-size="16.5" fill="#000" stroke="#000" stroke-width="0.18" style="font-kerning:none"><path d="M560 0L560 1237L215 1010L215 1180L560 1409L740 1409L740 0Z" transform="translate(-9.18,0) scale(0.00806,-0.00806)"/></g>
<g transform="translate(46.84,288.88) rotate(-90)" font-family="Liberation Sans, sans-serif" font-size="16.5" fill="#000" stroke="#000" stroke-width="0.18" style="font-kerning:none"><path d="M560 0L560 1237L215 1010L215 1180L560 1409L740 1409L740 0Z" transform="translate(-9.18,0) scale(0.00806,-0.00806)"/></g>
<text transform="translate(61.06,288.88) rotate(-90)" font-family="Liberation Sans, sans-serif" font-size="16.5" text-anchor="end" fill="#000" stroke="#000" stroke-width="0.18">2</text>
<text transform="translate(75.28,288.88) rotate(-90)" font-family="Liberation Sans, sans-serif" font-size="16.5" text-anchor="end" fill="#000" stroke="#000" stroke-width="0.18">3</text>
<text transform="translate(89.51,288.88) rotate(-90)" font-family="Liberation Sans, sans-serif" font-size="16.5" text-anchor="end" fill="#000" stroke="#000" stroke-width="0.18">4</text>
<text transform="translate(103.73,288.88) rotate(-90)" font-family="Liberation Sans, sans-serif" font-size="16.5" text-anchor="end" fill="#000" stroke="#000" stroke-width="0.18">5</text>
<text transform="translate(117.95,288.88) rotate(-90)" font-family="Liberation Sans, sans-serif" font-size="16.5" text-anchor="end" fill="#000" stroke="#000" stroke-width="0.18">6</text>
<text transform="translate(132.17,288.88) rotate(-90)" font-family="Liberation Sans, sans-serif" font-size="16.5" text-anchor="end" fill="#000" stroke="#000" stroke-width="0.18">7</text>
<text transform="translate(146.39,288.88) rotate(-90)" font-family="Liberation Sans, sans-serif" font-size="16.5" text-anchor="end" fill="#000" stroke="#000" stroke-width="0.18">8</text>
<text transform="translate(160.62,288.88) rotate(-90)" font-family="Liberation Sans, sans-serif" font-size="16.5" text-anchor="end" fill="#000" stroke="#000" stroke-width="0.18">9</text>
<g transform="translate(174.84,289.88) rotate(-90)" font-family="Liberation Sans, sans-serif" font-size="16.5" fill="#000" stroke="#000" stroke-width="0.18" style="font-kerning:none"><path d="M560 0L560 1237L215 1010L215 1180L560 1409L740 1409L740 0Z" transform="translate(-18.35,0) scale(0.00806,-0.00806)"/><text x="-9.18" y="0" xml:space="preserve">0</text></g>
<g transform="translate(189.06,289.88) rotate(-90)" font-family="Liberation Sans, sans-serif" font-size="16.5" fill="#000" stroke="#000" stroke-width="0.18" style="font-kerning:none"><path d="M560 0L560 1237L215 1010L215 1180L560 1409L740 1409L740 0Z" transform="translate(-18.35,0) scale(0.00806,-0.00806)"/><path d="M560 0L560 1237L215 1010L215 1180L560 1409L740 1409L740 0Z" transform="translate(-9.18,0) scale(0.00806,-0.00806)"/></g>
<g transform="translate(203.28,289.88) rotate(-90)" font-family="Liberation Sans, sans-serif" font-size="16.5" fill="#000" stroke="#000" stroke-width="0.18" style="font-kerning:none"><path d="M560 0L560 1237L215 1010L215 1180L560 1409L740 1409L740 0Z" transform="translate(-18.35,0) scale(0.00806,-0.00806)"/><text x="-9.18" y="0" xml:space="preserve">2</text></g>
<g transform="translate(217.50,289.88) rotate(-90)" font-family="Liberation Sans, sans-serif" font-size="16.5" fill="#000" stroke="#000" stroke-width="0.18" style="font-kerning:none"><path d="M560 0L560 1237L215 1010L215 1180L560 1409L740 1409L740 0Z" transform="translate(-18.35,0) scale(0.00806,-0.00806)"/><text x="-9.18" y="0" xml:space="preserve">3</text></g>
<g transform="translate(231.73,289.88) rotate(-90)" font-family="Liberation Sans, sans-serif" font-size="16.5" fill="#000" stroke="#000" stroke-width="0.18" style="font-kerning:none"><path d="M560 0L560 1237L215 1010L215 1180L560 1409L740 1409L740 0Z" transform="translate(-18.35,0) scale(0.00806,-0.00806)"/><text x="-9.18" y="0" xml:space="preserve">4</text></g>
<g transform="translate(245.95,289.88) rotate(-90)" font-family="Liberation Sans, sans-serif" font-size="16.5" fill="#000" stroke="#000" stroke-width="0.18" style="font-kerning:none"><path d="M560 0L560 1237L215 1010L215 1180L560 1409L740 1409L740 0Z" transform="translate(-18.35,0) scale(0.00806,-0.00806)"/><text x="-9.18" y="0" xml:space="preserve">5</text></g>
<g transform="translate(260.17,289.88) rotate(-90)" font-family="Liberation Sans, sans-serif" font-size="16.5" fill="#000" stroke="#000" stroke-width="0.18" style="font-kerning:none"><path d="M560 0L560 1237L215 1010L215 1180L560 1409L740 1409L740 0Z" transform="translate(-18.35,0) scale(0.00806,-0.00806)"/><text x="-9.18" y="0" xml:space="preserve">6</text></g>
<g transform="translate(274.39,289.88) rotate(-90)" font-family="Liberation Sans, sans-serif" font-size="16.5" fill="#000" stroke="#000" stroke-width="0.18" style="font-kerning:none"><path d="M560 0L560 1237L215 1010L215 1180L560 1409L740 1409L740 0Z" transform="translate(-18.35,0) scale(0.00806,-0.00806)"/><text x="-9.18" y="0" xml:space="preserve">7</text></g>
<g transform="translate(288.62,289.88) rotate(-90)" font-family="Liberation Sans, sans-serif" font-size="16.5" fill="#000" stroke="#000" stroke-width="0.18" style="font-kerning:none"><path d="M560 0L560 1237L215 1010L215 1180L560 1409L740 1409L740 0Z" transform="translate(-18.35,0) scale(0.00806,-0.00806)"/><text x="-9.18" y="0" xml:space="preserve">8</text></g>
<text x="162.73" y="322.08" font-family="Liberation Sans, sans-serif" font-size="16.5" text-anchor="middle" fill="#000" stroke="#000" stroke-width="0.18">Source</text>
<text transform="translate(12.53,156.87) rotate(-90)" font-family="Liberation Sans, sans-serif" font-size="16.5" text-anchor="middle" fill="#000" stroke="#000" stroke-width="0.18">Destination</text>
<g transform="translate(473.19,16.26)" font-family="Liberation Sans, sans-serif" font-size="16.5" fill="#000" stroke="#000" stroke-width="0.18" style="font-kerning:none"><text x="-42.66" y="0" xml:space="preserve">Year : 20</text><path d="M560 0L560 1237L215 1010L215 1180L560 1409L740 1409L740 0Z" transform="translate(24.30,0) scale(0.00806,-0.00806)"/><text x="33.48" y="0" xml:space="preserve">3</text></g>
<g transform="translate(341.95,41.05)" font-family="Liberation Sans, sans-serif" font-size="16.5" fill="#000" stroke="#000" stroke-width="0.18" style="font-kerning:none"><path d="M560 0L560 1237L215 1010L215 1180L560 1409L740 1409L740 0Z" transform="translate(-18.35,0) scale(0.00806,-0.00806)"/><text x="-9.18" y="0" xml:space="preserve">8</text></g>
<g transform="translate(341.95,55.24)" font-family="Liberation Sans, sans-serif" font-size="16.5" fill="#000" stroke="#000" stroke-width="0.18" style="font-kerning:none"><path d="M560 0L560 1237L215 1010L215 1180L560 1409L740 1409L740 0Z" transform="translate(-18.35,0) scale(0.00806,-0.00806)"/><text x="-9.18" y="0" xml:space="preserve">7</text></g>
<g transform="translate(341.95,69.44)" font-family="Liberation Sans, sans-serif" font-size="16.5" fill="#000" stroke="#000" stroke-width="0.18" style="font-kerning:none"><path d="M560 0L560 1237L215 1010L215 1180L560 1409L740 1409L740 0Z" transform="translate(-18.35,0) scale(0.00806,-0.00806)"/><text x="-9.18" y="0" xml:space="preserve">6</text></g>
<g transform="translate(341.95,83.62)" font-family="Liberation Sans, sans-serif" font-size="16.5" fill="#000" stroke="#000" stroke-width="0.18" style="font-kerning:none"><path d="M560 0L560 1237L215 1010L215 1180L560 1409L740 1409L740 0Z" transform="translate(-18.35,0) scale(0.00806,-0.00806)"/><text x="-9.18" y="0" xml:space="preserve">5</text></g>
<g transform="translate(341.95,97.81)" font-family="Liberation Sans, sans-serif" font-size="16.5" fill="#000" stroke="#000" stroke-width="0.18" style="font-kerning:none"><path d="M560 0L560 1237L215 1010L215 1180L560 1409L740 1409L740 0Z" transform="translate(-18.35,0) scale(0.00806,-0.00806)"/><text x="-9.18" y="0" xml:space="preserve">4</text></g>
<g transform="translate(341.95,112.00)" font-family="Liberation Sans, sans-serif" font-size="16.5" fill="#000" stroke="#000" stroke-width="0.18" style="font-kerning:none"><path d="M560 0L560 1237L215 1010L215 1180L560 1409L740 1409L740 0Z" transform="translate(-18.35,0) scale(0.00806,-0.00806)"/><text x="-9.18" y="0" xml:space="preserve">3</text></g>
<g transform="translate(341.95,126.19)" font-family="Liberation Sans, sans-serif" font-size="16.5" fill="#000" stroke="#000" stroke-width="0.18" style="font-kerning:none"><path d="M560 0L560 1237L215 1010L215 1180L560 1409L740 1409L740 0Z" transform="translate(-18.35,0) scale(0.00806,-0.00806)"/><text x="-9.18" y="0" xml:space="preserve">2</text></g>
<g transform="translate(341.95,140.38)" font-family="Liberation Sans, sans-serif" font-size="16.5" fill="#000" stroke="#000" stroke-width="0.18" style="font-kerning:none"><path d="M560 0L560 1237L215 1010L215 1180L560 1409L740 1409L740 0Z" transform="translate(-18.35,0) scale(0.00806,-0.00806)"/><path d="M560 0L560 1237L215 1010L215 1180L560 1409L740 1409L740 0Z" transform="translate(-9.18,0) scale(0.00806,-0.00806)"/></g>
<g transform="translate(341.95,154.57)" font-family="Liberation Sans, sans-serif" font-size="16.5" fill="#000" stroke="#000" stroke-width="0.18" style="font-kerning:none"><path d="M560 0L560 1237L215 1010L215 1180L560 1409L740 1409L740 0Z" transform="translate(-18.35,0) scale(0.00806,-0.00806)"/><text x="-9.18" y="0" xml:space="preserve">0</text></g>
<text x="341.95" y="168.77" font-family="Liberation Sans, sans-serif" font-size="16.5" text-anchor="end" fill="#000" stroke="#000" stroke-width="0.18">9</text>
<text x="341.95" y="182.96" font-family="Liberation Sans, sans-serif" font-size="16.5" text-anchor="end" fill="#000" stroke="#000" stroke-width="0.18">8</text>
<text x="341.95" y="197.15" font-family="Liberation Sans, sans-serif" font-size="16.5" text-anchor="end" fill="#000" stroke="#000" stroke-width="0.18">7</text>
<text x="341.95" y="211.34" font-family="Liberation Sans, sans-serif" font-size="16.5" text-anchor="end" fill="#000" stroke="#000" stroke-width="0.18">6</text>
<text x="341.95" y="225.53" font-family="Liberation Sans, sans-serif" font-size="16.5" text-anchor="end" fill="#000" stroke="#000" stroke-width="0.18">5</text>
<text x="341.95" y="239.72" font-family="Liberation Sans, sans-serif" font-size="16.5" text-anchor="end" fill="#000" stroke="#000" stroke-width="0.18">4</text>
<text x="341.95" y="253.91" font-family="Liberation Sans, sans-serif" font-size="16.5" text-anchor="end" fill="#000" stroke="#000" stroke-width="0.18">3</text>
<text x="341.95" y="268.10" font-family="Liberation Sans, sans-serif" font-size="16.5" text-anchor="end" fill="#000" stroke="#000" stroke-width="0.18">2</text>
<g transform="translate(341.95,282.29)" font-family="Liberation Sans, sans-serif" font-size="16.5" fill="#000" stroke="#000" stroke-width="0.18" style="font-kerning:none"><path d="M560 0L560 1237L215 1010L215 1180L560 1409L740 1409L740 0Z" transform="translate(-9.18,0) scale(0.00806,-0.00806)"/></g>
<g transform="translate(357.44,288.98) rotate(-90)" font-family="Liberation Sans, sans-serif" font-size="16.5" fill="#000" stroke="#000" stroke-width="0.18" style="font-kerning:none"><path d="M560 0L560 1237L215 1010L215 1180L560 1409L740 1409L740 0Z" transform="translate(-9.18,0) scale(0.00806,-0.00806)"/></g>
<text transform="translate(371.65,288.98) rotate(-90)" font-family="Liberation Sans, sans-serif" font-size="16.5" text-anchor="end" fill="#000" stroke="#000" stroke-width="0.18">2</text>
<text transform="translate(385.85,288.98) rotate(-90)" font-family="Liberation Sans, sans-serif" font-size="16.5" text-anchor="end" fill="#000" stroke="#000" stroke-width="0.18">3</text>
<text transform="translate(400.06,288.98) rotate(-90)" font-family="Liberation Sans, sans-serif" font-size="16.5" text-anchor="end" fill="#000" stroke="#000" stroke-width="0.18">4</text>
<text transform="translate(414.27,288.98) rotate(-90)" font-family="Liberation Sans, sans-serif" font-size="16.5" text-anchor="end" fill="#000" stroke="#000" stroke-width="0.18">5</text>
<text transform="translate(428.47,288.98) rotate(-90)" font-family="Liberation Sans, sans-serif" font-size="16.5" text-anchor="end" fill="#000" stroke="#000" stroke-width="0.18">6</text>
<text transform="translate(442.68,288.98) rotate(-90)" font-family="Liberation Sans, sans-serif" font-size="16.5" text-anchor="end" fill="#000" stroke="#000" stroke-width="0.18">7</text>
<text transform="translate(456.88,288.98) rotate(-90)" font-family="Liberation Sans, sans-serif" font-size="16.5" text-anchor="end" fill="#000" stroke="#000" stroke-width="0.18">8</text>
<text transform="translate(471.09,288.98) rotate(-90)" font-family="Liberation Sans, sans-serif" font-size="16.5" text-anchor="end" fill="#000" stroke="#000" stroke-width="0.18">9</text>
<g transform="translate(485.30,289.98) rotate(-90)" font-family="Liberation Sans, sans-serif" font-size="16.5" fill="#000" stroke="#000" stroke-width="0.18" style="font-kerning:none"><path d="M560 0L560 1237L215 1010L215 1180L560 1409L740 1409L740 0Z" transform="translate(-18.35,0) scale(0.00806,-0.00806)"/><text x="-9.18" y="0" xml:space="preserve">0</text></g>
<g transform="translate(499.50,289.98) rotate(-90)" font-family="Liberation Sans, sans-serif" font-size="16.5" fill="#000" stroke="#000" stroke-width="0.18" style="font-kerning:none"><path d="M560 0L560 1237L215 1010L215 1180L560 1409L740 1409L740 0Z" transform="translate(-18.35,0) scale(0.00806,-0.00806)"/><path d="M560 0L560 1237L215 1010L215 1180L560 1409L740 1409L740 0Z" transform="translate(-9.18,0) scale(0.00806,-0.00806)"/></g>
<g transform="translate(513.71,289.98) rotate(-90)" font-family="Liberation Sans, sans-serif" font-size="16.5" fill="#000" stroke="#000" stroke-width="0.18" style="font-kerning:none"><path d="M560 0L560 1237L215 1010L215 1180L560 1409L740 1409L740 0Z" transform="translate(-18.35,0) scale(0.00806,-0.00806)"/><text x="-9.18" y="0" xml:space="preserve">2</text></g>
<g transform="translate(527.91,289.98) rotate(-90)" font-family="Liberation Sans, sans-serif" font-size="16.5" fill="#000" stroke="#000" stroke-width="0.18" style="font-kerning:none"><path d="M560 0L560 1237L215 1010L215 1180L560 1409L740 1409L740 0Z" transform="translate(-18.35,0) scale(0.00806,-0.00806)"/><text x="-9.18" y="0" xml:space="preserve">3</text></g>
<g transform="translate(542.12,289.98) rotate(-90)" font-family="Liberation Sans, sans-serif" font-size="16.5" fill="#000" stroke="#000" stroke-width="0.18" style="font-kerning:none"><path d="M560 0L560 1237L215 1010L215 1180L560 1409L740 1409L740 0Z" transform="translate(-18.35,0) scale(0.00806,-0.00806)"/><text x="-9.18" y="0" xml:space="preserve">4</text></g>
<g transform="translate(556.33,289.98) rotate(-90)" font-family="Liberation Sans, sans-serif" font-size="16.5" fill="#000" stroke="#000" stroke-width="0.18" style="font-kerning:none"><path d="M560 0L560 1237L215 1010L215 1180L560 1409L740 1409L740 0Z" transform="translate(-18.35,0) scale(0.00806,-0.00806)"/><text x="-9.18" y="0" xml:space="preserve">5</text></g>
<g transform="translate(570.53,289.98) rotate(-90)" font-family="Liberation Sans, sans-serif" font-size="16.5" fill="#000" stroke="#000" stroke-width="0.18" style="font-kerning:none"><path d="M560 0L560 1237L215 1010L215 1180L560 1409L740 1409L740 0Z" transform="translate(-18.35,0) scale(0.00806,-0.00806)"/><text x="-9.18" y="0" xml:space="preserve">6</text></g>
<g transform="translate(584.74,289.98) rotate(-90)" font-family="Liberation Sans, sans-serif" font-size="16.5" fill="#000" stroke="#000" stroke-width="0.18" style="font-kerning:none"><path d="M560 0L560 1237L215 1010L215 1180L560 1409L740 1409L740 0Z" transform="translate(-18.35,0) scale(0.00806,-0.00806)"/><text x="-9.18" y="0" xml:space="preserve">7</text></g>
<g transform="translate(598.94,289.98) rotate(-90)" font-family="Liberation Sans, sans-serif" font-size="16.5" fill="#000" stroke="#000" stroke-width="0.18" style="font-kerning:none"><path d="M560 0L560 1237L215 1010L215 1180L560 1409L740 1409L740 0Z" transform="translate(-18.35,0) scale(0.00806,-0.00806)"/><text x="-9.18" y="0" xml:space="preserve">8</text></g>
<text x="473.19" y="322.08" font-family="Liberation Sans, sans-serif" font-size="16.5" text-anchor="middle" fill="#000" stroke="#000" stroke-width="0.18">Source</text>
<text transform="translate(323.14,156.97) rotate(-90)" font-family="Liberation Sans, sans-serif" font-size="16.5" text-anchor="middle" fill="#000" stroke="#000" stroke-width="0.18">Destination</text>
<g transform="translate(162.73,349.96)" font-family="Liberation Sans, sans-serif" font-size="16.5" fill="#000" stroke="#000" stroke-width="0.18" style="font-kerning:none"><text x="-42.66" y="0" xml:space="preserve">Year : 20</text><path d="M560 0L560 1237L215 1010L215 1180L560 1409L740 1409L740 0Z" transform="translate(24.30,0) scale(0.00806,-0.00806)"/><text x="33.48" y="0" xml:space="preserve">4</text></g>
<g transform="translate(32.30,373.98)" font-family="Liberation Sans, sans-serif" font-size="16.5" fill="#000" stroke="#000" stroke-width="0.18" style="font-kerning:none"><path d="M560 0L560 1237L215 1010L215 1180L560 1409L740 1409L740 0Z" transform="translate(-18.35,0) scale(0.00806,-0.00806)"/><text x="-9.18" y="0" xml:space="preserve">8</text></g>
<g transform="translate(32.30,388.22)" font-family="Liberation Sans, sans-serif" font-size="16.5" fill="#000" stroke="#000" stroke-width="0.18" style="font-kerning:none"><path d="M560 0L560 1237L215 1010L215 1180L560 1409L740 1409L740 0Z" transform="translate(-18.35,0) scale(0.00806,-0.00806)"/><text x="-9.18" y="0" xml:space="preserve">7</text></g>
<g transform="translate(32.30,402.46)" font-family="Liberation Sans, sans-serif" font-size="16.5" fill="#000" stroke="#000" stroke-width="0.18" style="font-kerning:none"><path d="M560 0L560 1237L215 1010L215 1180L560 1409L740 1409L740 0Z" transform="translate(-18.35,0) scale(0.00806,-0.00806)"/><text x="-9.18" y="0" xml:space="preserve">6</text></g>
<g transform="translate(32.30,416.70)" font-family="Liberation Sans, sans-serif" font-size="16.5" fill="#000" stroke="#000" stroke-width="0.18" style="font-kerning:none"><path d="M560 0L560 1237L215 1010L215 1180L560 1409L740 1409L740 0Z" transform="translate(-18.35,0) scale(0.00806,-0.00806)"/><text x="-9.18" y="0" xml:space="preserve">5</text></g>
<g transform="translate(32.30,430.94)" font-family="Liberation Sans, sans-serif" font-size="16.5" fill="#000" stroke="#000" stroke-width="0.18" style="font-kerning:none"><path d="M560 0L560 1237L215 1010L215 1180L560 1409L740 1409L740 0Z" transform="translate(-18.35,0) scale(0.00806,-0.00806)"/><text x="-9.18" y="0" xml:space="preserve">4</text></g>
<g transform="translate(32.30,445.18)" font-family="Liberation Sans, sans-serif" font-size="16.5" fill="#000" stroke="#000" stroke-width="0.18" style="font-kerning:none"><path d="M560 0L560 1237L215 1010L215 1180L560 1409L740 1409L740 0Z" transform="translate(-18.35,0) scale(0.00806,-0.00806)"/><text x="-9.18" y="0" xml:space="preserve">3</text></g>
<g transform="translate(32.30,459.42)" font-family="Liberation Sans, sans-serif" font-size="16.5" fill="#000" stroke="#000" stroke-width="0.18" style="font-kerning:none"><path d="M560 0L560 1237L215 1010L215 1180L560 1409L740 1409L740 0Z" transform="translate(-18.35,0) scale(0.00806,-0.00806)"/><text x="-9.18" y="0" xml:space="preserve">2</text></g>
<g transform="translate(32.30,473.66)" font-family="Liberation Sans, sans-serif" font-size="16.5" fill="#000" stroke="#000" stroke-width="0.18" style="font-kerning:none"><path d="M560 0L560 1237L215 1010L215 1180L560 1409L740 1409L740 0Z" transform="translate(-18.35,0) scale(0.00806,-0.00806)"/><path d="M560 0L560 1237L215 1010L215 1180L560 1409L740 1409L740 0Z" transform="translate(-9.18,0) scale(0.00806,-0.00806)"/></g>
<g transform="translate(32.30,487.90)" font-family="Liberation Sans, sans-serif" font-size="16.5" fill="#000" stroke="#000" stroke-width="0.18" style="font-kerning:none"><path d="M560 0L560 1237L215 1010L215 1180L560 1409L740 1409L740 0Z" transform="translate(-18.35,0) scale(0.00806,-0.00806)"/><text x="-9.18" y="0" xml:space="preserve">0</text></g>
<text x="32.30" y="502.14" font-family="Liberation Sans, sans-serif" font-size="16.5" text-anchor="end" fill="#000" stroke="#000" stroke-width="0.18">9</text>
<text x="32.30" y="516.38" font-family="Liberation Sans, sans-serif" font-size="16.5" text-anchor="end" fill="#000" stroke="#000" stroke-width="0.18">8</text>
<text x="32.30" y="530.62" font-family="Liberation Sans, sans-serif" font-size="16.5" text-anchor="end" fill="#000" stroke="#000" stroke-width="0.18">7</text>
<text x="32.30" y="544.86" font-family="Liberation Sans, sans-serif" font-size="16.5" text-anchor="end" fill="#000" stroke="#000" stroke-width="0.18">6</text>
<text x="32.30" y="559.10" font-family="Liberation Sans, sans-serif" font-size="16.5" text-anchor="end" fill="#000" stroke="#000" stroke-width="0.18">5</text>
<text x="32.30" y="573.34" font-family="Liberation Sans, sans-serif" font-size="16.5" text-anchor="end" fill="#000" stroke="#000" stroke-width="0.18">4</text>
<text x="32.30" y="587.58" font-family="Liberation Sans, sans-serif" font-size="16.5" text-anchor="end" fill="#000" stroke="#000" stroke-width="0.18">3</text>
<text x="32.30" y="601.82" font-family="Liberation Sans, sans-serif" font-size="16.5" text-anchor="end" fill="#000" stroke="#000" stroke-width="0.18">2</text>
<g transform="translate(32.30,616.06)" font-family="Liberation Sans, sans-serif" font-size="16.5" fill="#000" stroke="#000" stroke-width="0.18" style="font-kerning:none"><path d="M560 0L560 1237L215 1010L215 1180L560 1409L740 1409L740 0Z" transform="translate(-9.18,0) scale(0.00806,-0.00806)"/></g>
<g transform="translate(46.84,622.18) rotate(-90)" font-family="Liberation Sans, sans-serif" font-size="16.5" fill="#000" stroke="#000" stroke-width="0.18" style="font-kerning:none"><path d="M560 0L560 1237L215 1010L215 1180L560 1409L740 1409L740 0Z" transform="translate(-9.18,0) scale(0.00806,-0.00806)"/></g>
<text transform="translate(61.06,622.18) rotate(-90)" font-family="Liberation Sans, sans-serif" font-size="16.5" text-anchor="end" fill="#000" stroke="#000" stroke-width="0.18">2</text>
<text transform="translate(75.28,622.18) rotate(-90)" font-family="Liberation Sans, sans-serif" font-size="16.5" text-anchor="end" fill="#000" stroke="#000" stroke-width="0.18">3</text>
<text transform="translate(89.51,622.18) rotate(-90)" font-family="Liberation Sans, sans-serif" font-size="16.5" text-anchor="end" fill="#000" stroke="#000" stroke-width="0.18">4</text>
<text transform="translate(103.73,622.18) rotate(-90)" font-family="Liberation Sans, sans-serif" font-size="16.5" text-anchor="end" fill="#000" stroke="#000" stroke-width="0.18">5</text>
<text transform="translate(117.95,622.18) rotate(-90)" font-family="Liberation Sans, sans-serif" font-size="16.5" text-anchor="end" fill="#000" stroke="#000" stroke-width="0.18">6</text>
<text transform="translate(132.17,622.18) rotate(-90)" font-family="Liberation Sans, sans-serif" font-size="16.5" text-anchor="end" fill="#000" stroke="#000" stroke-width="0.18">7</text>
<text transform="translate(146.39,622.18) rotate(-90)" font-family="Liberation Sans, sans-serif" font-size="16.5" text-anchor="end" fill="#000" stroke="#000" stroke-width="0.18">8</text>
<text transform="translate(160.62,622.18) rotate(-90)" font-family="Liberation Sans, sans-serif" font-size="16.5" text-anchor="end" fill="#000" stroke="#000" stroke-width="0.18">9</text>
<g transform="translate(174.84,623.18) rotate(-90)" font-family="Liberation Sans, sans-serif" font-size="16.5" fill="#000" stroke="#000" stroke-width="0.18" style="font-kerning:none"><path d="M560 0L560 1237L215 1010L215 1180L560 1409L740 1409L740 0Z" transform="translate(-18.35,0) scale(0.00806,-0.00806)"/><text x="-9.18" y="0" xml:space="preserve">0</text></g>
<g transform="translate(189.06,623.18) rotate(-90)" font-family="Liberation Sans, sans-serif" font-size="16.5" fill="#000" stroke="#000" stroke-width="0.18" style="font-kerning:none"><path d="M560 0L560 1237L215 1010L215 1180L560 1409L740 1409L740 0Z" transform="translate(-18.35,0) scale(0.00806,-0.00806)"/><path d="M560 0L560 1237L215 1010L215 1180L560 1409L740 1409L740 0Z" transform="translate(-9.18,0) scale(0.00806,-0.00806)"/></g>
<g transform="translate(203.28,623.18) rotate(-90)" font-family="Liberation Sans, sans-serif" font-size="16.5" fill="#000" stroke="#000" stroke-width="0.18" style="font-kerning:none"><path d="M560 0L560 1237L215 1010L215 1180L560 1409L740 1409L740 0Z" transform="translate(-18.35,0) scale(0.00806,-0.00806)"/><text x="-9.18" y="0" xml:space="preserve">2</text></g>
<g transform="translate(217.50,623.18) rotate(-90)" font-family="Liberation Sans, sans-serif" font-size="16.5" fill="#000" stroke="#000" stroke-width="0.18" style="font-kerning:none"><path d="M560 0L560 1237L215 1010L215 1180L560 1409L740 1409L740 0Z" transform="translate(-18.35,0) scale(0.00806,-0.00806)"/><text x="-9.18" y="0" xml:space="preserve">3</text></g>
<g transform="translate(231.73,623.18) rotate(-90)" font-family="Liberation Sans, sans-serif" font-size="16.5" fill="#000" stroke="#000" stroke-width="0.18" style="font-kerning:none"><path d="M560 0L560 1237L215 1010L215 1180L560 1409L740 1409L740 0Z" transform="translate(-18.35,0) scale(0.00806,-0.00806)"/><text x="-9.18" y="0" xml:space="preserve">4</text></g>
<g transform="translate(245.95,623.18) rotate(-90)" font-family="Liberation Sans, sans-serif" font-size="16.5" fill="#000" stroke="#000" stroke-width="0.18" style="font-kerning:none"><path d="M560 0L560 1237L215 1010L215 1180L560 1409L740 1409L740 0Z" transform="translate(-18.35,0) scale(0.00806,-0.00806)"/><text x="-9.18" y="0" xml:space="preserve">5</text></g>
<g transform="translate(260.17,623.18) rotate(-90)" font-family="Liberation Sans, sans-serif" font-size="16.5" fill="#000" stroke="#000" stroke-width="0.18" style="font-kerning:none"><path d="M560 0L560 1237L215 1010L215 1180L560 1409L740 1409L740 0Z" transform="translate(-18.35,0) scale(0.00806,-0.00806)"/><text x="-9.18" y="0" xml:space="preserve">6</text></g>
<g transform="translate(274.39,623.18) rotate(-90)" font-family="Liberation Sans, sans-serif" font-size="16.5" fill="#000" stroke="#000" stroke-width="0.18" style="font-kerning:none"><path d="M560 0L560 1237L215 1010L215 1180L560 1409L740 1409L740 0Z" transform="translate(-18.35,0) scale(0.00806,-0.00806)"/><text x="-9.18" y="0" xml:space="preserve">7</text></g>
<g transform="translate(288.62,623.18) rotate(-90)" font-family="Liberation Sans, sans-serif" font-size="16.5" fill="#000" stroke="#000" stroke-width="0.18" style="font-kerning:none"><path d="M560 0L560 1237L215 1010L215 1180L560 1409L740 1409L740 0Z" transform="translate(-18.35,0) scale(0.00806,-0.00806)"/><text x="-9.18" y="0" xml:space="preserve">8</text></g>
<text x="162.73" y="655.30" font-family="Liberation Sans, sans-serif" font-size="16.5" text-anchor="middle" fill="#000" stroke="#000" stroke-width="0.18">Source</text>
<text transform="translate(12.53,490.32) rotate(-90)" font-family="Liberation Sans, sans-serif" font-size="16.5" text-anchor="middle" fill="#000" stroke="#000" stroke-width="0.18">Destination</text>
<g transform="translate(473.19,349.96)" font-family="Liberation Sans, sans-serif" font-size="16.5" fill="#000" stroke="#000" stroke-width="0.18" style="font-kerning:none"><text x="-42.66" y="0" xml:space="preserve">Year : 20</text><path d="M560 0L560 1237L215 1010L215 1180L560 1409L740 1409L740 0Z" transform="translate(24.30,0) scale(0.00806,-0.00806)"/><text x="33.48" y="0" xml:space="preserve">5</text></g>
<g transform="translate(341.95,373.98)" font-family="Liberation Sans, sans-serif" font-size="16.5" fill="#000" stroke="#000" stroke-width="0.18" style="font-kerning:none"><path d="M560 0L560 1237L215 1010L215 1180L560 1409L740 1409L740 0Z" transform="translate(-18.35,0) scale(0.00806,-0.00806)"/><text x="-9.18" y="0" xml:space="preserve">8</text></g>
<g transform="translate(341.95,388.22)" font-family="Liberation Sans, sans-serif" font-size="16.5" fill="#000" stroke="#000" stroke-width="0.18" style="font-kerning:none"><path d="M560 0L560 1237L215 1010L215 1180L560 1409L740 1409L740 0Z" transform="translate(-18.35,0) scale(0.00806,-0.00806)"/><text x="-9.18" y="0" xml:space="preserve">7</text></g>
<g transform="translate(341.95,402.46)" font-family="Liberation Sans, sans-serif" font-size="16.5" fill="#000" stroke="#000" stroke-width="0.18" style="font-kerning:none"><path d="M560 0L560 1237L215 1010L215 1180L560 1409L740 1409L740 0Z" transform="translate(-18.35,0) scale(0.00806,-0.00806)"/><text x="-9.18" y="0" xml:space="preserve">6</text></g>
<g transform="translate(341.95,416.70)" font-family="Liberation Sans, sans-serif" font-size="16.5" fill="#000" stroke="#000" stroke-width="0.18" style="font-kerning:none"><path d="M560 0L560 1237L215 1010L215 1180L560 1409L740 1409L740 0Z" transform="translate(-18.35,0) scale(0.00806,-0.00806)"/><text x="-9.18" y="0" xml:space="preserve">5</text></g>
<g transform="translate(341.95,430.94)" font-family="Liberation Sans, sans-serif" font-size="16.5" fill="#000" stroke="#000" stroke-width="0.18" style="font-kerning:none"><path d="M560 0L560 1237L215 1010L215 1180L560 1409L740 1409L740 0Z" transform="translate(-18.35,0) scale(0.00806,-0.00806)"/><text x="-9.18" y="0" xml:space="preserve">4</text></g>
<g transform="translate(341.95,445.18)" font-family="Liberation Sans, sans-serif" font-size="16.5" fill="#000" stroke="#000" stroke-width="0.18" style="font-kerning:none"><path d="M560 0L560 1237L215 1010L215 1180L560 1409L740 1409L740 0Z" transform="translate(-18.35,0) scale(0.00806,-0.00806)"/><text x="-9.18" y="0" xml:space="preserve">3</text></g>
<g transform="translate(341.95,459.42)" font-family="Liberation Sans, sans-serif" font-size="16.5" fill="#000" stroke="#000" stroke-width="0.18" style="font-kerning:none"><path d="M560 0L560 1237L215 1010L215 1180L560 1409L740 1409L740 0Z" transform="translate(-18.35,0) scale(0.00806,-0.00806)"/><text x="-9.18" y="0" xml:space="preserve">2</text></g>
<g transform="translate(341.95,473.66)" font-family="Liberation Sans, sans-serif" font-size="16.5" fill="#000" stroke="#000" stroke-width="0.18" style="font-kerning:none"><path d="M560 0L560 1237L215 1010L215 1180L560 1409L740 1409L740 0Z" transform="translate(-18.35,0) scale(0.00806,-0.00806)"/><path d="M560 0L560 1237L215 1010L215 1180L560 1409L740 1409L740 0Z" transform="translate(-9.18,0) scale(0.00806,-0.00806)"/></g>
<g transform="translate(341.95,487.90)" font-family="Liberation Sans, sans-serif" font-size="16.5" fill="#000" stroke="#000" stroke-width="0.18" style="font-kerning:none"><path d="M560 0L560 1237L215 1010L215 1180L560 1409L740 1409L740 0Z" transform="translate(-18.35,0) scale(0.00806,-0.00806)"/><text x="-9.18" y="0" xml:space="preserve">0</text></g>
<text x="341.95" y="502.14" font-family="Liberation Sans, sans-serif" font-size="16.5" text-anchor="end" fill="#000" stroke="#000" stroke-width="0.18">9</text>
<text x="341.95" y="516.38" font-family="Liberation Sans, sans-serif" font-size="16.5" text-anchor="end" fill="#000" stroke="#000" stroke-width="0.18">8</text>
<text x="341.95" y="530.62" font-family="Liberation Sans, sans-serif" font-size="16.5" text-anchor="end" fill="#000" stroke="#000" stroke-width="0.18">7</text>
<text x="341.95" y="544.86" font-family="Liberation Sans, sans-serif" font-size="16.5" text-anchor="end" fill="#000" stroke="#000" stroke-width="0.18">6</text>
<text x="341.95" y="559.10" font-family="Liberation Sans, sans-serif" font-size="16.5" text-anchor="end" fill="#000" stroke="#000" stroke-width="0.18">5</text>
<text x="341.95" y="573.34" font-family="Liberation Sans, sans-serif" font-size="16.5" text-anchor="end" fill="#000" stroke="#000" stroke-width="0.18">4</text>
<text x="341.95" y="587.58" font-family="Liberation Sans, sans-serif" font-size="16.5" text-anchor="end" fill="#000" stroke="#000" stroke-width="0.18">3</text>
<text x="341.95" y="601.82" font-family="Liberation Sans, sans-serif" font-size="16.5" text-anchor="end" fill="#000" stroke="#000" stroke-width="0.18">2</text>
<g transform="translate(341.95,616.06)" font-family="Liberation Sans, sans-serif" font-size="16.5" fill="#000" stroke="#000" stroke-width="0.18" style="font-kerning:none"><path d="M560 0L560 1237L215 1010L215 1180L560 1409L740 1409L740 0Z" transform="translate(-9.18,0) scale(0.00806,-0.00806)"/></g>
<g transform="translate(357.44,622.18) rotate(-90)" font-family="Liberation Sans, sans-serif" font-size="16.5" fill="#000" stroke="#000" stroke-width="0.18" style="font-kerning:none"><path d="M560 0L560 1237L215 1010L215 1180L560 1409L740 1409L740 0Z" transform="translate(-9.18,0) scale(0.00806,-0.00806)"/></g>
<text transform="translate(371.65,622.18) rotate(-90)" font-family="Liberation Sans, sans-serif" font-size="16.5" text-anchor="end" fill="#000" stroke="#000" stroke-width="0.18">2</text>
<text transform="translate(385.85,622.18) rotate(-90)" font-family="Liberation Sans, sans-serif" font-size="16.5" text-anchor="end" fill="#000" stroke="#000" stroke-width="0.18">3</text>
<text transform="translate(400.06,622.18) rotate(-90)" font-family="Liberation Sans, sans-serif" font-size="16.5" text-anchor="end" fill="#000" stroke="#000" stroke-width="0.18">4</text>
<text transform="translate(414.27,622.18) rotate(-90)" font-family="Liberation Sans, sans-serif" font-size="16.5" text-anchor="end" fill="#000" stroke="#000" stroke-width="0.18">5</text>
<text transform="translate(428.47,622.18) rotate(-90)" font-family="Liberation Sans, sans-serif" font-size="16.5" text-anchor="end" fill="#000" stroke="#000" stroke-width="0.18">6</text>
<text transform="translate(442.68,622.18) rotate(-90)" font-family="Liberation Sans, sans-serif" font-size="16.5" text-anchor="end" fill="#000" stroke="#000" stroke-width="0.18">7</text>
<text transform="translate(456.88,622.18) rotate(-90)" font-family="Liberation Sans, sans-serif" font-size="16.5" text-anchor="end" fill="#000" stroke="#000" stroke-width="0.18">8</text>
<text transform="translate(471.09,622.18) rotate(-90)" font-family="Liberation Sans, sans-serif" font-size="16.5" text-anchor="end" fill="#000" stroke="#000" stroke-width="0.18">9</text>
<g transform="translate(485.30,623.18) rotate(-90)" font-family="Liberation Sans, sans-serif" font-size="16.5" fill="#000" stroke="#000" stroke-width="0.18" style="font-kerning:none"><path d="M560 0L560 1237L215 1010L215 1180L560 1409L740 1409L740 0Z" transform="translate(-18.35,0) scale(0.00806,-0.00806)"/><text x="-9.18" y="0" xml:space="preserve">0</text></g>
<g transform="translate(499.50,623.18) rotate(-90)" font-family="Liberation Sans, sans-serif" font-size="16.5" fill="#000" stroke="#000" stroke-width="0.18" style="font-kerning:none"><path d="M560 0L560 1237L215 1010L215 1180L560 1409L740 1409L740 0Z" transform="translate(-18.35,0) scale(0.00806,-0.00806)"/><path d="M560 0L560 1237L215 1010L215 1180L560 1409L740 1409L740 0Z" transform="translate(-9.18,0) scale(0.00806,-0.00806)"/></g>
<g transform="translate(513.71,623.18) rotate(-90)" font-family="Liberation Sans, sans-serif" font-size="16.5" fill="#000" stroke="#000" stroke-width="0.18" style="font-kerning:none"><path d="M560 0L560 1237L215 1010L215 1180L560 1409L740 1409L740 0Z" transform="translate(-18.35,0) scale(0.00806,-0.00806)"/><text x="-9.18" y="0" xml:space="preserve">2</text></g>
<g transform="translate(527.91,623.18) rotate(-90)" font-family="Liberation Sans, sans-serif" font-size="16.5" fill="#000" stroke="#000" stroke-width="0.18" style="font-kerning:none"><path d="M560 0L560 1237L215 1010L215 1180L560 1409L740 1409L740 0Z" transform="translate(-18.35,0) scale(0.00806,-0.00806)"/><text x="-9.18" y="0" xml:space="preserve">3</text></g>
<g transform="translate(542.12,623.18) rotate(-90)" font-family="Liberation Sans, sans-serif" font-size="16.5" fill="#000" stroke="#000" stroke-width="0.18" style="font-kerning:none"><path d="M560 0L560 1237L215 1010L215 1180L560 1409L740 1409L740 0Z" transform="translate(-18.35,0) scale(0.00806,-0.00806)"/><text x="-9.18" y="0" xml:space="preserve">4</text></g>
<g transform="translate(556.33,623.18) rotate(-90)" font-family="Liberation Sans, sans-serif" font-size="16.5" fill="#000" stroke="#000" stroke-width="0.18" style="font-kerning:none"><path d="M560 0L560 1237L215 1010L215 1180L560 1409L740 1409L740 0Z" transform="translate(-18.35,0) scale(0.00806,-0.00806)"/><text x="-9.18" y="0" xml:space="preserve">5</text></g>
<g transform="translate(570.53,623.18) rotate(-90)" font-family="Liberation Sans, sans-serif" font-size="16.5" fill="#000" stroke="#000" stroke-width="0.18" style="font-kerning:none"><path d="M560 0L560 1237L215 1010L215 1180L560 1409L740 1409L740 0Z" transform="translate(-18.35,0) scale(0.00806,-0.00806)"/><text x="-9.18" y="0" xml:space="preserve">6</text></g>
<g transform="translate(584.74,623.18) rotate(-90)" font-family="Liberation Sans, sans-serif" font-size="16.5" fill="#000" stroke="#000" stroke-width="0.18" style="font-kerning:none"><path d="M560 0L560 1237L215 1010L215 1180L560 1409L740 1409L740 0Z" transform="translate(-18.35,0) scale(0.00806,-0.00806)"/><text x="-9.18" y="0" xml:space="preserve">7</text></g>
<g transform="translate(598.94,623.18) rotate(-90)" font-family="Liberation Sans, sans-serif" font-size="16.5" fill="#000" stroke="#000" stroke-width="0.18" style="font-kerning:none"><path d="M560 0L560 1237L215 1010L215 1180L560 1409L740 1409L740 0Z" transform="translate(-18.35,0) scale(0.00806,-0.00806)"/><text x="-9.18" y="0" xml:space="preserve">8</text></g>
<text x="473.19" y="655.30" font-family="Liberation Sans, sans-serif" font-size="16.5" text-anchor="middle" fill="#000" stroke="#000" stroke-width="0.18">Source</text>
<text transform="translate(323.14,490.32) rotate(-90)" font-family="Liberation Sans, sans-serif" font-size="16.5" text-anchor="middle" fill="#000" stroke="#000" stroke-width="0.18">Destination</text>
<g transform="translate(637.30,225.20)" font-family="Liberation Sans, sans-serif" font-size="16.5" fill="#000" stroke="#000" stroke-width="0.18" style="font-kerning:none"><path d="M560 0L560 1237L215 1010L215 1180L560 1409L740 1409L740 0Z" transform="translate(0.00,0) scale(0.00806,-0.00806)"/><text x="9.18" y="0" xml:space="preserve">0</text></g>
<g transform="translate(655.80,214.60)" font-family="Liberation Sans, sans-serif" font-size="10" fill="#000" stroke="#000" stroke-width="0.18" style="font-kerning:none"><text x="0.00" y="0" xml:space="preserve">-</text><path d="M560 0L560 1237L215 1010L215 1180L560 1409L740 1409L740 0Z" transform="translate(3.33,0) scale(0.00488,-0.00488)"/></g>
<g transform="translate(637.30,322.80)" font-family="Liberation Sans, sans-serif" font-size="16.5" fill="#000" stroke="#000" stroke-width="0.18" style="font-kerning:none"><path d="M560 0L560 1237L215 1010L215 1180L560 1409L740 1409L740 0Z" transform="translate(0.00,0) scale(0.00806,-0.00806)"/><text x="9.18" y="0" xml:space="preserve">0</text></g>
<text x="655.80" y="312.20" font-family="Liberation Sans, sans-serif" font-size="10" text-anchor="start" fill="#000" stroke="#000" stroke-width="0.18">-2</text>
<g transform="translate(637.30,420.40)" font-family="Liberation Sans, sans-serif" font-size="16.5" fill="#000" stroke="#000" stroke-width="0.18" style="font-kerning:none"><path d="M560 0L560 1237L215 1010L215 1180L560 1409L740 1409L740 0Z" transform="translate(0.00,0) scale(0.00806,-0.00806)"/><text x="9.18" y="0" xml:space="preserve">0</text></g>
<text x="655.80" y="409.80" font-family="Liberation Sans, sans-serif" font-size="10" text-anchor="start" fill="#000" stroke="#000" stroke-width="0.18">-3</text>
<g transform="translate(637.30,518.00)" font-family="Liberation Sans, sans-serif" font-size="16.5" fill="#000" stroke="#000" stroke-width="0.18" style="font-kerning:none"><path d="M560 0L560 1237L215 1010L215 1180L560 1409L740 1409L740 0Z" transform="translate(0.00,0) scale(0.00806,-0.00806)"/><text x="9.18" y="0" xml:space="preserve">0</text></g>
<text x="655.80" y="507.40" font-family="Liberation Sans, sans-serif" font-size="10" text-anchor="start" fill="#000" stroke="#000" stroke-width="0.18">-4</text>
<g transform="translate(637.30,615.60)" font-family="Liberation Sans, sans-serif" font-size="16.5" fill="#000" stroke="#000" stroke-width="0.18" style="font-kerning:none"><path d="M560 0L560 1237L215 1010L215 1180L560 1409L740 1409L740 0Z" transform="translate(0.00,0) scale(0.00806,-0.00806)"/><text x="9.18" y="0" xml:space="preserve">0</text></g>
<text x="655.80" y="605.00" font-family="Liberation Sans, sans-serif" font-size="10" text-anchor="start" fill="#000" stroke="#000" stroke-width="0.18">-5</text>
<text transform="translate(680.8,411.2) rotate(-90)" font-family="Liberation Sans, sans-serif" font-size="16" text-anchor="middle" textLength="142" lengthAdjust="spacing" fill="#383838">Probability Density</text>
</svg></body></html>
